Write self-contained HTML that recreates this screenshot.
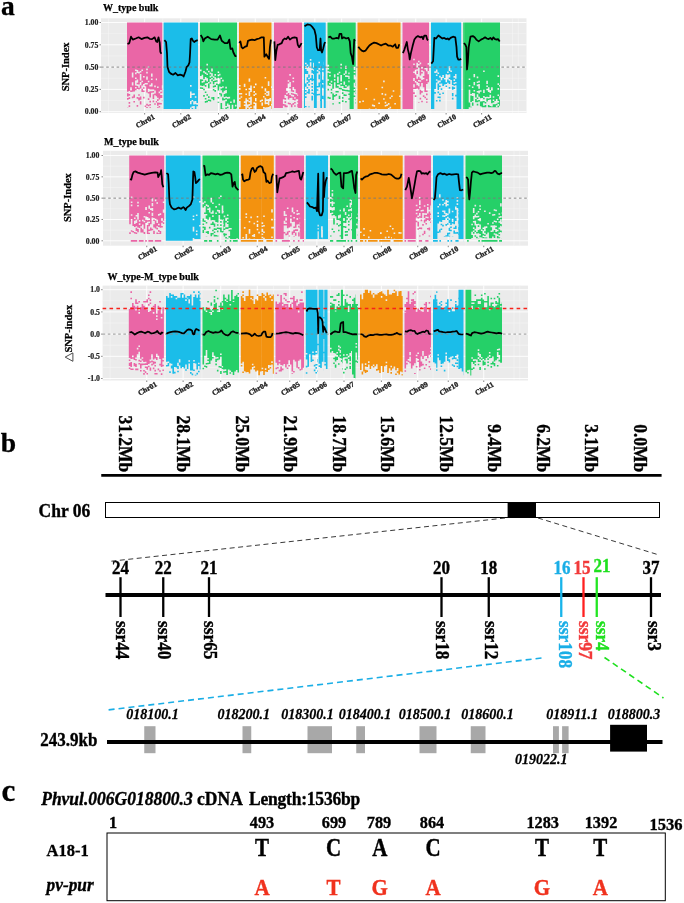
<!DOCTYPE html>
<html><head><meta charset="utf-8"><style>html,body{margin:0;padding:0;background:#fff;}svg{display:block;will-change:transform;}</style></head>
<body><svg width="684" height="903" viewBox="0 0 684 903" font-family='"Liberation Serif", serif'><rect x="101" y="18.3" width="425.50" height="94.70" fill="#ebebeb"/><path d="M101 33.65H526.5M101 55.95H526.5M101 78.25H526.5M101 100.55H526.5M162.73 18.3V113M199.65 18.3V113M236.88 18.3V113M271.62 18.3V113M301.43 18.3V113M328.24 18.3V113M360.31 18.3V113M397.38 18.3V113M430.94 18.3V113M463.88 18.3V113M108.50 18.3V113M512.50 18.3V113M518.30 18.3V113" stroke="#f6f6f6" stroke-width="0.5" fill="none"/><path d="M101 22.50H526.5M101 44.80H526.5M101 67.10H526.5M101 89.40H526.5M101 111.70H526.5M144.65 18.3V113M180.80 18.3V113M218.50 18.3V113M255.25 18.3V113M288.00 18.3V113M314.85 18.3V113M341.62 18.3V113M379.00 18.3V113M415.75 18.3V113M446.12 18.3V113M481.62 18.3V113" stroke="#fff" stroke-width="0.9" fill="none"/><path fill="#ea66a6" d="M127 22.5h1.6V91.7h-1.6zM127 93.3h1.6V96.5h-1.6zM127 98.1h1.6V99.7h-1.6zM127 107.7h1.6V108.1h-1.6zM128.6 22.5h1.6V90.9h-1.6zM128.6 94.1h1.6V95.7h-1.6zM128.6 97.3h1.6V98.9h-1.6zM128.6 102.1h1.6V103.7h-1.6zM128.6 105.3h1.6V106.9h-1.6zM130.2 22.5h1.6V87.3h-1.6zM130.2 90.5h1.6V92.1h-1.6zM131.8 22.5h1.6V72.6h-1.6zM131.8 77.4h1.6V82.2h-1.6zM131.8 85.4h1.6V91.8h-1.6zM131.8 96.6h1.6V98.2h-1.6zM133.4 22.5h1.6V91.4h-1.6zM133.4 94.6h1.6V97.8h-1.6zM133.4 101h1.6V102.6h-1.6zM135 22.5h1.6V69.4h-1.6zM135 71h1.6V72.6h-1.6zM135 74.2h1.6V77.4h-1.6zM135 79h1.6V80.6h-1.6zM135 85.4h1.6V87h-1.6zM135 88.6h1.6V90.2h-1.6zM136.6 22.5h1.6V69.9h-1.6zM136.6 73.1h1.6V79.5h-1.6zM136.6 82.7h1.6V84.3h-1.6zM136.6 85.9h1.6V89.1h-1.6zM136.6 97.1h1.6V98.7h-1.6zM136.6 105.1h1.6V106.7h-1.6zM138.2 22.5h1.6V71.8h-1.6zM138.2 73.4h1.6V84.6h-1.6zM138.2 87.8h1.6V89.4h-1.6zM138.2 94.2h1.6V95.8h-1.6zM138.2 97.4h1.6V100.6h-1.6zM139.8 22.5h1.6V70.9h-1.6zM139.8 72.5h1.6V74.1h-1.6zM139.8 80.5h1.6V82.1h-1.6zM139.8 85.3h1.6V88.5h-1.6zM139.8 96.5h1.6V99.7h-1.6zM139.8 101.3h1.6V104.5h-1.6zM141.4 22.5h1.6V69.5h-1.6zM141.4 71.1h1.6V80.7h-1.6zM141.4 82.3h1.6V85.5h-1.6zM141.4 88.7h1.6V91.9h-1.6zM143 22.5h1.6V76h-1.6zM143 77.6h1.6V84h-1.6zM143 87.2h1.6V88.8h-1.6zM143 90.4h1.6V92h-1.6zM143 96.8h1.6V98.4h-1.6zM143 108h1.6V108.1h-1.6zM144.6 22.5h1.6V83h-1.6zM144.6 84.6h1.6V86.2h-1.6zM144.6 105.4h1.6V107h-1.6zM146.2 22.5h1.6V68.6h-1.6zM146.2 70.2h1.6V71.8h-1.6zM146.2 73.4h1.6V76.6h-1.6zM146.2 79.8h1.6V83h-1.6zM146.2 84.6h1.6V92.6h-1.6zM146.2 103.8h1.6V105.4h-1.6zM146.2 107h1.6V108.1h-1.6zM147.8 22.5h1.6V66.3h-1.6zM147.8 67.9h1.6V80.7h-1.6zM147.8 82.3h1.6V88.7h-1.6zM147.8 91.9h1.6V93.5h-1.6zM147.8 98.3h1.6V99.9h-1.6zM147.8 104.7h1.6V106.3h-1.6zM149.4 22.5h1.6V84.8h-1.6zM149.4 86.4h1.6V89.6h-1.6zM149.4 91.2h1.6V97.6h-1.6zM149.4 100.8h1.6V102.4h-1.6zM149.4 104h1.6V105.6h-1.6zM149.4 107.2h1.6V108.1h-1.6zM151 22.5h1.6V73.6h-1.6zM151 76.8h1.6V78.4h-1.6zM151 80h1.6V83.2h-1.6zM151 86.4h1.6V89.6h-1.6zM151 91.2h1.6V92.8h-1.6zM152.6 22.5h1.6V89.4h-1.6zM152.6 91h1.6V92.6h-1.6zM152.6 94.2h1.6V99h-1.6zM152.6 100.6h1.6V102.2h-1.6zM154.2 22.5h1.6V85.6h-1.6zM154.2 87.2h1.6V90.4h-1.6zM154.2 93.6h1.6V95.2h-1.6zM154.2 103.2h1.6V104.8h-1.6zM154.2 108h1.6V108.1h-1.6zM155.8 22.5h1.2V78.6h-1.2zM155.8 80.2h1.2V96.2h-1.2zM155.8 101h1.2V102.6h-1.2zM157 22.5h1.6V86.5h-1.6zM157 88.1h1.6V97.7h-1.6zM157 99.3h1.6V100.9h-1.6zM157 102.5h1.6V105.7h-1.6zM157 107.3h1.6V108.1h-1.6zM158.6 22.5h1.6V91.6h-1.6zM158.6 93.2h1.6V99.6h-1.6zM158.6 102.8h1.6V104.4h-1.6zM158.6 106h1.6V107.6h-1.6zM160.2 22.5h1.6V90.1h-1.6zM160.2 91.7h1.6V93.3h-1.6zM160.2 94.9h1.6V98.1h-1.6zM160.2 102.9h1.6V104.5h-1.6zM161.8 22.5h0.5V85.3h-0.5zM161.8 88.5h0.5V93.3h-0.5zM161.8 94.9h0.5V98.1h-0.5zM161.8 99.7h0.5V101.3h-0.5zM161.8 107.7h0.5V108.1h-0.5z"/><path fill="#1bbde9" d="M163.6 22.5h1.6V109h-1.6zM165.2 22.5h1.6V109h-1.6zM166.8 22.5h1.6V109h-1.6zM168.4 22.5h1.6V109h-1.6zM170 22.5h1.6V109h-1.6zM171.6 22.5h1.6V109h-1.6zM173.2 22.5h1.6V109h-1.6zM174.8 22.5h1.6V109h-1.6zM176.4 22.5h1.6V109h-1.6zM178 22.5h1.6V109h-1.6zM179.6 22.5h1.6V109h-1.6zM181.2 22.5h1.6V109h-1.6zM182.8 22.5h1.6V109h-1.6zM184.4 22.5h1.6V109h-1.6zM186 22.5h1.6V109h-1.6zM187.6 22.5h1.6V109h-1.6zM189.2 22.5h0.8V109h-0.8zM190 22.5h1.6V85.1h-1.6zM190 86.7h1.6V91.5h-1.6zM190 97.9h1.6V101.1h-1.6zM190 104.3h1.6V107.5h-1.6zM191.6 22.5h1.6V93.5h-1.6zM191.6 95.1h1.6V99.9h-1.6zM191.6 101.5h1.6V106.3h-1.6zM191.6 107.9h1.6V109h-1.6zM193.2 22.5h1.6V93.3h-1.6zM193.2 94.9h1.6V101.3h-1.6zM193.2 104.5h1.6V106.1h-1.6zM194.8 22.5h1.6V96.2h-1.6zM194.8 97.8h1.6V101h-1.6zM194.8 104.2h1.6V109h-1.6zM196.4 22.5h1.6V103.1h-1.6zM196.4 104.7h1.6V106.3h-1.6z"/><path fill="#25d068" d="M200 22.5h1.6V69.6h-1.6zM200 71.2h1.6V76h-1.6zM200 79.2h1.6V85.6h-1.6zM200 87.2h1.6V88.8h-1.6zM201.6 22.5h1.6V74.7h-1.6zM201.6 79.5h1.6V81.1h-1.6zM201.6 82.7h1.6V85.9h-1.6zM201.6 87.5h1.6V89.1h-1.6zM203.2 22.5h1.6V71.1h-1.6zM203.2 72.7h1.6V79.1h-1.6zM203.2 82.3h1.6V85.5h-1.6zM203.2 88.7h1.6V90.3h-1.6zM203.2 95.1h1.6V96.7h-1.6zM204.8 22.5h1.6V72.3h-1.6zM204.8 73.9h1.6V77.1h-1.6zM204.8 80.3h1.6V83.5h-1.6zM204.8 85.1h1.6V86.7h-1.6zM204.8 91.5h1.6V93.1h-1.6zM204.8 97.9h1.6V99.5h-1.6zM204.8 101.1h1.6V102.7h-1.6zM206.4 22.5h1.6V63.8h-1.6zM206.4 65.4h1.6V68.6h-1.6zM206.4 70.2h1.6V73.4h-1.6zM206.4 75h1.6V78.2h-1.6zM206.4 81.4h1.6V83h-1.6zM206.4 94.2h1.6V95.8h-1.6zM206.4 100.6h1.6V102.2h-1.6zM208 22.5h1.6V70.7h-1.6zM208 72.3h1.6V81.9h-1.6zM208 83.5h1.6V88.3h-1.6zM208 96.3h1.6V97.9h-1.6zM208 99.5h1.6V101.1h-1.6zM208 102.7h1.6V102.8h-1.6zM209.6 22.5h1.6V72.6h-1.6zM209.6 74.2h1.6V75.8h-1.6zM209.6 77.4h1.6V79h-1.6zM209.6 82.2h1.6V83.8h-1.6zM209.6 99.8h1.6V101.4h-1.6zM211.2 22.5h1.6V68.4h-1.6zM211.2 71.6h1.6V73.2h-1.6zM211.2 76.4h1.6V78h-1.6zM211.2 79.6h1.6V81.2h-1.6zM211.2 97.2h1.6V98.8h-1.6zM212.8 22.5h1.6V76.2h-1.6zM212.8 77.8h1.6V79.4h-1.6zM212.8 81h1.6V84.2h-1.6zM212.8 85.8h1.6V87.4h-1.6zM212.8 89h1.6V90.6h-1.6zM212.8 97h1.6V100.2h-1.6zM214.4 22.5h1.6V74.1h-1.6zM214.4 75.7h1.6V77.3h-1.6zM214.4 80.5h1.6V82.1h-1.6zM214.4 85.3h1.6V86.9h-1.6zM214.4 90.1h1.6V91.7h-1.6zM216 22.5h1.6V78.6h-1.6zM216 80.2h1.6V81.8h-1.6zM216 83.4h1.6V85h-1.6zM217.6 22.5h1.6V71.4h-1.6zM217.6 73h1.6V74.6h-1.6zM217.6 76.2h1.6V77.8h-1.6zM217.6 84.2h1.6V90.6h-1.6zM217.6 97h1.6V98.6h-1.6zM217.6 101.8h1.6V102.8h-1.6zM219.2 22.5h1.3V73.8h-1.3zM219.2 75.4h1.3V78.6h-1.3zM219.2 83.4h1.3V86.6h-1.3zM219.2 93h1.3V94.6h-1.3zM220.5 22.5h1.6V77.4h-1.6zM220.5 79h1.6V87h-1.6zM220.5 88.6h1.6V90.2h-1.6zM220.5 93.4h1.6V96.6h-1.6zM220.5 103h1.6V109h-1.6zM222.1 22.5h1.6V79.8h-1.6zM222.1 81.4h1.6V86.2h-1.6zM222.1 87.8h1.6V92.6h-1.6zM222.1 97.4h1.6V100.6h-1.6zM222.1 108.6h1.6V109h-1.6zM223.7 22.5h1.6V90.7h-1.6zM223.7 93.9h1.6V97.1h-1.6zM223.7 98.7h1.6V100.3h-1.6zM225.3 22.5h1.6V86.8h-1.6zM225.3 88.4h1.6V90h-1.6zM225.3 93.2h1.6V96.4h-1.6zM225.3 98h1.6V99.6h-1.6zM225.3 101.2h1.6V106h-1.6zM225.3 107.6h1.6V109h-1.6zM226.9 22.5h1.6V97.1h-1.6zM226.9 98.7h1.6V103.5h-1.6zM226.9 106.7h1.6V108.3h-1.6zM228.5 22.5h1.6V96.8h-1.6zM228.5 98.4h1.6V104.8h-1.6zM230.1 22.5h1.6V101.4h-1.6zM230.1 103h1.6V109h-1.6zM231.7 22.5h1.6V104.8h-1.6zM233.3 22.5h1.6V99.6h-1.6zM233.3 102.8h1.6V109h-1.6zM234.9 22.5h1.6V104.8h-1.6zM234.9 106.4h1.6V109h-1.6zM236.5 22.5h0.5V108h-0.5z"/><path fill="#f3920f" d="M239 22.5h1.6V84.9h-1.6zM239 86.5h1.6V88.1h-1.6zM239 89.7h1.6V92.9h-1.6zM239 94.5h1.6V97.7h-1.6zM239 99.3h1.6V100.9h-1.6zM239 107.3h1.6V109h-1.6zM240.6 22.5h1.6V93h-1.6zM240.6 94.6h1.6V96.2h-1.6zM240.6 97.8h1.6V109h-1.6zM242.2 22.5h1.6V109h-1.6zM243.8 22.5h1.6V83.7h-1.6zM243.8 86.9h1.6V101.3h-1.6zM243.8 102.9h1.6V104.5h-1.6zM243.8 106.1h1.6V109h-1.6zM245.4 22.5h1.6V88.7h-1.6zM245.4 90.3h1.6V93.5h-1.6zM245.4 95.1h1.6V98.3h-1.6zM247 22.5h1.6V99.8h-1.6zM247 101.4h1.6V104.6h-1.6zM247 107.8h1.6V109h-1.6zM248.6 22.5h1.6V78.5h-1.6zM248.6 81.7h1.6V88.1h-1.6zM248.6 89.7h1.6V91.3h-1.6zM248.6 96.1h1.6V97.7h-1.6zM248.6 99.3h1.6V100.9h-1.6zM248.6 102.5h1.6V104.1h-1.6zM248.6 105.7h1.6V107.3h-1.6zM248.6 108.9h1.6V109h-1.6zM250.2 22.5h1.6V85.6h-1.6zM250.2 92h1.6V96.8h-1.6zM250.2 104.8h1.6V106.4h-1.6zM250.2 108h1.6V109h-1.6zM251.8 22.5h1.6V109h-1.6zM253.4 22.5h1.6V86.3h-1.6zM253.4 87.9h1.6V91.1h-1.6zM253.4 92.7h1.6V94.3h-1.6zM253.4 95.9h1.6V102.3h-1.6zM253.4 103.9h1.6V105.5h-1.6zM253.4 108.7h1.6V109h-1.6zM255 22.5h1.6V83.6h-1.6zM255 85.2h1.6V93.2h-1.6zM255 94.8h1.6V98h-1.6zM255 101.2h1.6V102.8h-1.6zM256.6 22.5h1.6V109h-1.6zM258.2 22.5h1.6V109h-1.6zM259.8 22.5h1.6V100.3h-1.6zM259.8 101.9h1.6V109h-1.6zM261.4 22.5h1.6V86.6h-1.6zM261.4 88.2h1.6V99.4h-1.6zM261.4 101h1.6V102.6h-1.6zM261.4 105.8h1.6V109h-1.6zM263 22.5h1.6V95.9h-1.6zM263 97.5h1.6V107.1h-1.6zM263 108.7h1.6V109h-1.6zM264.6 22.5h1.6V77h-1.6zM264.6 78.6h1.6V88.2h-1.6zM264.6 91.4h1.6V93h-1.6zM264.6 94.6h1.6V97.8h-1.6zM264.6 104.2h1.6V107.4h-1.6zM266.2 22.5h1.6V91.3h-1.6zM266.2 92.9h1.6V94.5h-1.6zM266.2 96.1h1.6V99.3h-1.6zM266.2 100.9h1.6V102.5h-1.6zM266.2 104.1h1.6V107.3h-1.6zM267.8 22.5h1.6V81.3h-1.6zM267.8 86.1h1.6V90.9h-1.6zM267.8 95.7h1.6V98.9h-1.6zM267.8 105.3h1.6V106.9h-1.6zM269.4 22.5h1.6V98h-1.6zM269.4 101.2h1.6V106h-1.6zM271 22.5h0.5V86.3h-0.5zM271 87.9h0.5V103.9h-0.5zM271 105.5h0.5V109h-0.5z"/><path fill="#ea66a6" d="M274 22.5h1.6V108.1h-1.6zM275.6 22.5h1.6V108.1h-1.6zM277.2 22.5h1.6V108.1h-1.6zM278.8 22.5h1.6V108.1h-1.6zM280.4 22.5h1.6V108.1h-1.6zM282 22.5h0.9V108.1h-0.9zM282.9 22.5h1.6V99.3h-1.6zM282.9 104.1h1.6V105.7h-1.6zM284.5 22.5h1.6V94.9h-1.6zM284.5 98.1h1.6V99.7h-1.6zM284.5 101.3h1.6V102.9h-1.6zM284.5 104.5h1.6V107.2h-1.6zM286.1 22.5h1.6V87.9h-1.6zM286.1 91.1h1.6V92.7h-1.6zM286.1 94.3h1.6V95.9h-1.6zM286.1 105.5h1.6V107.2h-1.6zM287.7 22.5h1.6V80.2h-1.6zM287.7 81.8h1.6V83.4h-1.6zM287.7 93h1.6V99.4h-1.6zM287.7 102.6h1.6V104.2h-1.6zM289.3 22.5h1.6V74.1h-1.6zM289.3 75.7h1.6V82.1h-1.6zM289.3 86.9h1.6V88.5h-1.6zM289.3 94.9h1.6V98.1h-1.6zM289.3 102.9h1.6V104.5h-1.6zM290.9 22.5h1.6V91.4h-1.6zM290.9 93h1.6V94.6h-1.6zM290.9 96.2h1.6V97.8h-1.6zM290.9 104.2h1.6V107.2h-1.6zM292.5 22.5h1.6V77.5h-1.6zM292.5 79.1h1.6V80.7h-1.6zM292.5 82.3h1.6V87.1h-1.6zM292.5 90.3h1.6V91.9h-1.6zM292.5 93.5h1.6V95.1h-1.6zM292.5 96.7h1.6V99.9h-1.6zM292.5 103.1h1.6V104.7h-1.6zM294.1 22.5h1.6V89.2h-1.6zM294.1 94h1.6V97.2h-1.6zM294.1 98.8h1.6V100.4h-1.6zM294.1 102h1.6V103.6h-1.6zM294.1 105.2h1.6V106.8h-1.6zM295.7 22.5h1.6V92.9h-1.6zM295.7 94.5h1.6V99.3h-1.6zM297.3 22.5h0.8V94.5h-0.8zM297.3 96.1h0.8V99.3h-0.8zM297.3 100.9h0.8V102.5h-0.8zM297.3 104.1h0.8V107.2h-0.8zM298.1 22.5h1.6V108.1h-1.6zM299.7 22.5h1.6V108.1h-1.6zM301.3 22.5h0.7V108.1h-0.7z"/><path fill="#1bbde9" d="M304 22.5h1V108.1h-1zM305 22.5h1.6V62.7h-1.6zM305 64.3h1.6V65.9h-1.6zM305 69.1h1.6V73.9h-1.6zM305 83.5h1.6V86.7h-1.6zM305 89.9h1.6V91.5h-1.6zM305 93.1h1.6V94.7h-1.6zM305 96.3h1.6V97.9h-1.6zM305 105.9h1.6V107.2h-1.6zM306.6 22.5h1.6V64.5h-1.6zM306.6 66.1h1.6V67.7h-1.6zM306.6 70.9h1.6V74.1h-1.6zM306.6 77.3h1.6V80.5h-1.6zM306.6 82.1h1.6V83.7h-1.6zM306.6 86.9h1.6V88.5h-1.6zM306.6 91.7h1.6V93.3h-1.6zM308.2 22.5h1.6V66.5h-1.6zM308.2 74.5h1.6V77.7h-1.6zM308.2 79.3h1.6V82.5h-1.6zM308.2 84.1h1.6V85.7h-1.6zM308.2 88.9h1.6V93.7h-1.6zM308.2 106.5h1.6V107.2h-1.6zM309.8 22.5h1.6V59.1h-1.6zM309.8 60.7h1.6V62.3h-1.6zM309.8 78.3h1.6V79.9h-1.6zM311.4 22.5h1.6V68.5h-1.6zM311.4 70.1h1.6V73.3h-1.6zM311.4 74.9h1.6V81.3h-1.6zM311.4 82.9h1.6V84.5h-1.6zM311.4 86.1h1.6V87.7h-1.6zM311.4 89.3h1.6V90.9h-1.6zM311.4 92.5h1.6V94.1h-1.6zM311.4 95.7h1.6V100.5h-1.6zM313 22.5h0.9V62.8h-0.9zM313 67.6h0.9V69.2h-0.9zM313 70.8h0.9V74h-0.9zM313 78.8h0.9V80.4h-0.9zM313 93.2h0.9V94.8h-0.9zM313.9 22.5h1.6V108.1h-1.6zM315.5 22.5h1.3V108.1h-1.3zM316.8 22.5h1.6V70h-1.6zM316.8 71.6h1.6V73.2h-1.6zM316.8 86h1.6V87.6h-1.6zM316.8 89.2h1.6V90.8h-1.6zM316.8 94h1.6V95.6h-1.6zM318.4 22.5h1.6V61.7h-1.6zM318.4 63.3h1.6V68.1h-1.6zM318.4 69.7h1.6V71.3h-1.6zM318.4 74.5h1.6V79.3h-1.6zM318.4 82.5h1.6V87.3h-1.6zM318.4 93.7h1.6V95.3h-1.6zM320 22.5h0.3V65.8h-0.3zM320 70.6h0.3V72.2h-0.3zM320 81.8h0.3V83.4h-0.3zM320 99.4h0.3V101h-0.3zM320.3 22.5h1.6V108.1h-1.6zM321.9 22.5h0.1V108.1h-0.1zM322 22.5h1.6V68.6h-1.6zM322 70.2h1.6V71.8h-1.6zM322 79.8h1.6V83h-1.6zM322 84.6h1.6V87.8h-1.6zM322 95.8h1.6V99h-1.6zM323.6 22.5h0.2V61.8h-0.2zM323.6 65h0.2V68.2h-0.2zM323.6 69.8h0.2V73h-0.2zM323.6 76.2h0.2V79.4h-0.2zM323.6 82.6h0.2V84.2h-0.2zM323.6 87.4h0.2V89h-0.2zM323.6 98.6h0.2V100.2h-0.2zM323.8 22.5h1.6V108.1h-1.6zM325.4 22.5h0.3V108.1h-0.3z"/><path fill="#25d068" d="M327.5 22.5h1.6V64.8h-1.6zM327.5 66.4h1.6V68h-1.6zM327.5 69.6h1.6V71.2h-1.6zM327.5 72.8h1.6V79.2h-1.6zM327.5 80.8h1.6V85.6h-1.6zM327.5 88.8h1.6V90.4h-1.6zM327.5 96.8h1.6V98.4h-1.6zM329.1 22.5h1.6V71.7h-1.6zM329.1 73.3h1.6V74.9h-1.6zM329.1 76.5h1.6V82.9h-1.6zM329.1 84.5h1.6V86.1h-1.6zM329.1 97.3h1.6V98.9h-1.6zM330.7 22.5h1.6V80.8h-1.6zM330.7 82.4h1.6V84h-1.6zM330.7 88.8h1.6V90.4h-1.6zM330.7 92h1.6V93.6h-1.6zM332.3 22.5h1.6V88.8h-1.6zM332.3 93.6h1.6V100h-1.6zM332.3 103.2h1.6V104.6h-1.6zM333.9 22.5h1.6V74.3h-1.6zM333.9 77.5h1.6V79.1h-1.6zM333.9 80.7h1.6V82.3h-1.6zM333.9 95.1h1.6V96.7h-1.6zM335.5 22.5h1.6V87.7h-1.6zM335.5 90.9h1.6V92.5h-1.6zM335.5 94.1h1.6V95.7h-1.6zM337.1 22.5h1.6V73.3h-1.6zM337.1 74.9h1.6V76.5h-1.6zM337.1 82.9h1.6V84.5h-1.6zM337.1 86.1h1.6V87.7h-1.6zM337.1 90.9h1.6V92.5h-1.6zM338.7 22.5h1.6V71.7h-1.6zM338.7 73.3h1.6V84.5h-1.6zM338.7 87.7h1.6V89.3h-1.6zM338.7 95.7h1.6V98.9h-1.6zM338.7 102.1h1.6V103.7h-1.6zM340.3 22.5h1.6V63.8h-1.6zM340.3 65.4h1.6V67h-1.6zM340.3 68.6h1.6V75h-1.6zM340.3 81.4h1.6V83h-1.6zM340.3 84.6h1.6V86.2h-1.6zM340.3 87.8h1.6V89.4h-1.6zM341.9 22.5h1.6V85.9h-1.6zM341.9 89.1h1.6V90.7h-1.6zM341.9 92.3h1.6V93.9h-1.6zM341.9 97.1h1.6V98.7h-1.6zM341.9 100.3h1.6V101.9h-1.6zM343.5 22.5h1.6V73.5h-1.6zM343.5 75.1h1.6V81.5h-1.6zM343.5 84.7h1.6V87.9h-1.6zM343.5 89.5h1.6V91.1h-1.6zM343.5 94.3h1.6V95.9h-1.6zM345.1 22.5h1.6V65.7h-1.6zM345.1 68.9h1.6V70.5h-1.6zM345.1 73.7h1.6V75.3h-1.6zM345.1 76.9h1.6V84.9h-1.6zM345.1 86.5h1.6V88.1h-1.6zM345.1 89.7h1.6V91.3h-1.6zM345.1 94.5h1.6V96.1h-1.6zM345.1 100.9h1.6V102.5h-1.6zM346.7 22.5h1.6V75.4h-1.6zM346.7 77h1.6V86.6h-1.6zM346.7 89.8h1.6V91.4h-1.6zM348.3 22.5h1.3V72.6h-1.3zM348.3 74.2h1.3V75.8h-1.3zM348.3 79h1.3V80.6h-1.3zM348.3 82.2h1.3V85.4h-1.3zM348.3 90.2h1.3V91.8h-1.3zM348.3 93.4h1.3V95h-1.3zM348.3 98.2h1.3V99.8h-1.3zM349.6 22.5h1.6V109h-1.6zM351.2 22.5h1.6V109h-1.6zM352.8 22.5h0.9V109h-0.9zM353.7 22.5h1.6V66.7h-1.6zM353.7 69.9h1.6V71.5h-1.6zM353.7 73.1h1.6V74.7h-1.6zM353.7 79.5h1.6V82.7h-1.6zM353.7 87.5h1.6V89.1h-1.6zM353.7 90.7h1.6V92.3h-1.6zM353.7 95.5h1.6V97.1h-1.6zM355.3 22.5h0.4V76.5h-0.4zM355.3 82.9h0.4V86.1h-0.4zM355.3 89.3h0.4V90.9h-0.4zM355.3 92.5h0.4V94.1h-0.4zM355.3 98.9h0.4V100.5h-0.4zM355.3 102.1h0.4V103.7h-0.4z"/><path fill="#f3920f" d="M357.5 22.5h1.6V109h-1.6zM359.1 22.5h1.6V101.1h-1.6zM359.1 102.7h1.6V109h-1.6zM360.7 22.5h1.6V109h-1.6zM362.3 22.5h1.6V100.5h-1.6zM362.3 102.1h1.6V109h-1.6zM363.9 22.5h1.6V109h-1.6zM365.5 22.5h1.6V87.9h-1.6zM365.5 89.5h1.6V109h-1.6zM367.1 22.5h1.6V109h-1.6zM368.7 22.5h1.6V108.4h-1.6zM370.3 22.5h1.6V109h-1.6zM371.9 22.5h1.6V104.6h-1.6zM371.9 106.2h1.6V109h-1.6zM373.5 22.5h1.6V98.7h-1.6zM373.5 100.3h1.6V105.1h-1.6zM373.5 106.7h1.6V109h-1.6zM375.1 22.5h1.6V108.4h-1.6zM376.7 22.5h1.6V109h-1.6zM378.3 22.5h1.6V102.5h-1.6zM378.3 104.1h1.6V109h-1.6zM379.9 22.5h1.6V109h-1.6zM381.5 22.5h1.6V86.7h-1.6zM381.5 88.3h1.6V93.1h-1.6zM381.5 94.7h1.6V109h-1.6zM383.1 22.5h1.6V80.6h-1.6zM383.1 82.2h1.6V98.2h-1.6zM383.1 99.8h1.6V109h-1.6zM384.7 22.5h1.6V93.8h-1.6zM384.7 95.4h1.6V101.8h-1.6zM384.7 103.4h1.6V105h-1.6zM384.7 106.6h1.6V109h-1.6zM386.3 22.5h1.6V104.3h-1.6zM386.3 105.9h1.6V109h-1.6zM387.9 22.5h1.6V103.1h-1.6zM387.9 104.7h1.6V107.9h-1.6zM389.5 22.5h1.6V97.2h-1.6zM389.5 98.8h1.6V106.8h-1.6zM389.5 108.4h1.6V109h-1.6zM391.1 22.5h1.6V95.4h-1.6zM391.1 97h1.6V109h-1.6zM392.7 22.5h1.6V90.2h-1.6zM392.7 91.8h1.6V109h-1.6zM394.3 22.5h1.6V103h-1.6zM394.3 104.6h1.6V109h-1.6zM395.9 22.5h1.6V109h-1.6zM397.5 22.5h1.6V109h-1.6zM399.1 22.5h1.4V95.4h-1.4zM399.1 97h1.4V109h-1.4z"/><path fill="#ea66a6" d="M402.5 22.5h1.6V109h-1.6zM404.1 22.5h1.6V109h-1.6zM405.7 22.5h1.6V109h-1.6zM407.3 22.5h1.6V109h-1.6zM408.9 22.5h1.6V109h-1.6zM410.5 22.5h1.6V109h-1.6zM412.1 22.5h1.1V109h-1.1zM413.2 22.5h1.6V58.7h-1.6zM413.2 60.3h1.6V63.5h-1.6zM413.2 65.1h1.6V71.5h-1.6zM413.2 73.1h1.6V77.9h-1.6zM413.2 81.1h1.6V84.3h-1.6zM413.2 87.5h1.6V89.1h-1.6zM413.2 92.3h1.6V93.9h-1.6zM414.8 22.5h1.6V69.7h-1.6zM414.8 74.5h1.6V80.9h-1.6zM414.8 82.5h1.6V88.9h-1.6zM414.8 95.3h1.6V96.9h-1.6zM416.4 22.5h1.6V62.8h-1.6zM416.4 67.6h1.6V69.2h-1.6zM416.4 70.8h1.6V74h-1.6zM416.4 78.8h1.6V82h-1.6zM416.4 85.2h1.6V88.4h-1.6zM418 22.5h1.6V60.7h-1.6zM418 62.3h1.6V63.9h-1.6zM418 65.5h1.6V67.1h-1.6zM418 76.7h1.6V79.9h-1.6zM418 81.5h1.6V83.1h-1.6zM418 86.3h1.6V89.5h-1.6zM418 102.3h1.6V102.8h-1.6zM419.6 22.5h1.6V62.6h-1.6zM419.6 64.2h1.6V75.4h-1.6zM419.6 78.6h1.6V80.2h-1.6zM419.6 81.8h1.6V86.6h-1.6zM419.6 89.8h1.6V94.6h-1.6zM419.6 97.8h1.6V99.4h-1.6zM421.2 22.5h1.6V67.1h-1.6zM421.2 68.7h1.6V70.3h-1.6zM421.2 71.9h1.6V73.5h-1.6zM421.2 79.9h1.6V83.1h-1.6zM421.2 91.1h1.6V92.7h-1.6zM421.2 100.7h1.6V102.3h-1.6zM422.8 22.5h1.6V71.3h-1.6zM422.8 76.1h1.6V77.7h-1.6zM422.8 79.3h1.6V87.3h-1.6zM422.8 95.3h1.6V96.9h-1.6zM424.4 22.5h1.6V67.9h-1.6zM424.4 69.5h1.6V91.9h-1.6zM424.4 96.7h1.6V98.3h-1.6zM426 22.5h1.6V68h-1.6zM426 71.2h1.6V79.2h-1.6zM426 80.8h1.6V84h-1.6zM426 90.4h1.6V92h-1.6zM426 93.6h1.6V95.2h-1.6zM426 98.4h1.6V100h-1.6zM426 101.6h1.6V102.8h-1.6zM427.6 22.5h1.4V63.1h-1.4zM427.6 64.7h1.4V71.1h-1.4zM427.6 74.3h1.4V82.3h-1.4z"/><path fill="#1bbde9" d="M431 22.5h1.6V109h-1.6zM432.6 22.5h1.6V109h-1.6zM434.2 22.5h0.1V109h-0.1zM434.3 22.5h1.6V71.3h-1.6zM434.3 72.9h1.6V88.9h-1.6zM434.3 92.1h1.6V93.7h-1.6zM435.9 22.5h1.6V69.6h-1.6zM435.9 72.8h1.6V74.4h-1.6zM435.9 76h1.6V79.2h-1.6zM435.9 80.8h1.6V82.4h-1.6zM435.9 100h1.6V101.6h-1.6zM437.5 22.5h1.6V72.4h-1.6zM437.5 74h1.6V80.4h-1.6zM437.5 83.6h1.6V90h-1.6zM437.5 91.6h1.6V93.2h-1.6zM437.5 96.4h1.6V98h-1.6zM439.1 22.5h1.6V75.8h-1.6zM439.1 77.4h1.6V80.6h-1.6zM439.1 82.2h1.6V83.8h-1.6zM439.1 85.4h1.6V87h-1.6zM439.1 93.4h1.6V95h-1.6zM439.1 96.6h1.6V98.2h-1.6zM439.1 99.8h1.6V101.4h-1.6zM440.7 22.5h1.6V77.1h-1.6zM440.7 80.3h1.6V83.5h-1.6zM440.7 88.3h1.6V89.9h-1.6zM442.3 22.5h1.6V74.9h-1.6zM442.3 78.1h1.6V86.1h-1.6zM442.3 92.5h1.6V94.1h-1.6zM443.9 22.5h1.6V78h-1.6zM443.9 79.6h1.6V84.4h-1.6zM445.5 22.5h1.6V74.3h-1.6zM445.5 82.3h1.6V83.9h-1.6zM445.5 85.5h1.6V87.1h-1.6zM447.1 22.5h1.6V71.5h-1.6zM447.1 73.1h1.6V74.7h-1.6zM447.1 79.5h1.6V82.7h-1.6zM448.7 22.5h1.6V66.3h-1.6zM448.7 71.1h1.6V74.3h-1.6zM448.7 77.5h1.6V79.1h-1.6zM448.7 80.7h1.6V83.9h-1.6zM448.7 87.1h1.6V88.7h-1.6zM450.3 22.5h1.6V70.4h-1.6zM450.3 72h1.6V80h-1.6zM451.9 22.5h1.6V85h-1.6zM451.9 86.6h1.6V89.8h-1.6zM451.9 93h1.6V96.2h-1.6zM451.9 97.8h1.6V99.4h-1.6zM453.5 22.5h1.6V76.1h-1.6zM453.5 77.7h1.6V79.3h-1.6zM453.5 80.9h1.6V82.5h-1.6zM453.5 84.1h1.6V85.7h-1.6zM453.5 87.3h1.6V88.9h-1.6zM455.1 22.5h1.4V74h-1.4zM455.1 78.8h1.4V82h-1.4zM455.1 83.6h1.4V85.2h-1.4zM455.1 94.8h1.4V96.4h-1.4zM456.5 22.5h1.6V109h-1.6zM458.1 22.5h1.6V109h-1.6zM459.7 22.5h1.5V109h-1.5z"/><path fill="#25d068" d="M463.2 22.5h1.6V109h-1.6zM464.9 22.5h1.6V109h-1.6zM466.5 22.5h1.6V109h-1.6zM468.1 22.5h0.6V109h-0.6zM468.7 22.5h1.6V78.5h-1.6zM468.7 80.1h1.6V84.9h-1.6zM468.7 86.5h1.6V89.7h-1.6zM468.7 102.5h1.6V107.2h-1.6zM470.3 22.5h1.6V93.9h-1.6zM470.3 95.5h1.6V101.9h-1.6zM470.3 106.7h1.6V107.2h-1.6zM471.9 22.5h1.6V86.5h-1.6zM471.9 88.1h1.6V92.9h-1.6zM471.9 96.1h1.6V100.9h-1.6zM471.9 102.5h1.6V105.7h-1.6zM473.5 22.5h1.6V74h-1.6zM473.5 77.2h1.6V82h-1.6zM473.5 85.2h1.6V90h-1.6zM473.5 91.6h1.6V93.2h-1.6zM475.1 22.5h1.6V97.4h-1.6zM475.1 99h1.6V102.2h-1.6zM476.7 22.5h1.6V76.6h-1.6zM476.7 78.2h1.6V81.4h-1.6zM476.7 83h1.6V84.6h-1.6zM476.7 86.2h1.6V91h-1.6zM476.7 92.6h1.6V94.2h-1.6zM476.7 97.4h1.6V99h-1.6zM476.7 100.6h1.6V102.2h-1.6zM476.7 103.8h1.6V105.4h-1.6zM478.3 22.5h1.6V80.8h-1.6zM478.3 82.4h1.6V84h-1.6zM478.3 88.8h1.6V90.4h-1.6zM478.3 93.6h1.6V96.8h-1.6zM478.3 100h1.6V101.6h-1.6zM479.9 22.5h1.6V90.2h-1.6zM479.9 91.8h1.6V98.2h-1.6zM479.9 101.4h1.6V106.2h-1.6zM481.5 22.5h1.6V98h-1.6zM481.5 101.2h1.6V107.2h-1.6zM483.1 22.5h1.6V70.5h-1.6zM483.1 72.1h1.6V89.7h-1.6zM483.1 92.9h1.6V96.1h-1.6zM483.1 97.7h1.6V99.3h-1.6zM483.1 100.9h1.6V102.5h-1.6zM483.1 105.7h1.6V107.2h-1.6zM484.7 22.5h1.6V97.1h-1.6zM484.7 101.9h1.6V103.5h-1.6zM484.7 105.1h1.6V107.2h-1.6zM486.3 22.5h1.6V80.7h-1.6zM486.3 83.9h1.6V85.5h-1.6zM486.3 87.1h1.6V88.7h-1.6zM486.3 90.3h1.6V96.7h-1.6zM486.3 98.3h1.6V101.5h-1.6zM487.9 22.5h1.6V87.3h-1.6zM487.9 92.1h1.6V96.9h-1.6zM487.9 98.5h1.6V100.1h-1.6zM487.9 104.9h1.6V107.2h-1.6zM489.5 22.5h1.6V89.9h-1.6zM489.5 93.1h1.6V94.7h-1.6zM489.5 97.9h1.6V99.5h-1.6zM489.5 105.9h1.6V107.2h-1.6zM491.1 22.5h1.6V87.3h-1.6zM491.1 90.5h1.6V103.3h-1.6zM491.1 106.5h1.6V107.2h-1.6zM492.7 22.5h1.6V96.2h-1.6zM492.7 97.8h1.6V99.4h-1.6zM492.7 101h1.6V102.6h-1.6zM492.7 104.2h1.6V107.2h-1.6zM494.3 22.5h1.6V101h-1.6zM494.3 104.2h1.6V107.2h-1.6zM495.9 22.5h1.6V98.9h-1.6zM495.9 103.7h1.6V105.3h-1.6zM495.9 106.9h1.6V107.2h-1.6zM497.5 22.5h1.6V75.3h-1.6zM497.5 76.9h1.6V83.3h-1.6zM497.5 84.9h1.6V88.1h-1.6zM497.5 89.7h1.6V94.5h-1.6zM497.5 96.1h1.6V100.9h-1.6zM497.5 102.5h1.6V104.1h-1.6zM497.5 105.7h1.6V107.2h-1.6zM499.1 22.5h0.9V85h-0.9zM499.1 86.6h0.9V96.2h-0.9zM499.1 99.4h0.9V105.8h-0.9z"/><path d="M101 67.10H526.5" stroke="#7a7a7a" stroke-width="0.9" stroke-dasharray="2.6,2.6"/><path d="M127.5 44L129.3 43.1L131 36.7L132.8 39.6L135.7 38.5L138.6 37.3L141.5 39.1L144.5 37.9L147.4 37.3L149.7 38.8L152.1 39.1L154.6 37.3L156.2 41.4L157.3 42L158.5 37.3L159.7 42.6L160.3 51.9L161.4 53.7" fill="none" stroke="#000" stroke-width="1.75" stroke-linejoin="round"/><path d="M164.4 40.2L166.1 42L167 53.1L167.5 67.1L169 71.8L170.8 73.6L173.1 74.7L175.5 73L177.8 75.3L180.1 74.7L182.5 75.3L183.6 76.5L185.4 71.8L186.6 67.1L188.3 65.4L189.5 62.4L190.1 53.1L190.7 39.1L191.8 38.5L193 40.8L194.2 42L195.9 40.8L197.7 40.2" fill="none" stroke="#000" stroke-width="1.75" stroke-linejoin="round"/><path d="M200.7 35L202.4 37.9L203.3 41.4L204.8 38.5L207.7 36.7L211.2 39.1L214.7 39.6L217.6 39.6L220 35.5L221.7 40.8L224.7 43.1L227.6 43.1L229.3 39.6L230.5 49L232.3 48.4L233.4 52.5L235.2 56L236.4 56" fill="none" stroke="#000" stroke-width="1.75" stroke-linejoin="round"/><path d="M239.3 43.1L240.4 41.4L241.6 47.2L242.8 48.4L245.1 46.7L246.9 46.1L248 40.8L249.8 40.2L252.1 39.6L254.5 40.2L256.8 39.1L259.2 38.5L261.5 37.3L263.8 37.3L264.4 56.6L266.2 54.3L267.9 57.2L269.1 58.9L269.9 47.2L270.9 39.6" fill="none" stroke="#000" stroke-width="1.75" stroke-linejoin="round"/><path d="M274.4 41.4L275.3 60.1L276.4 50.7L277.6 44.9L279.4 44.3L281.7 43.1L282.9 40.2L284.6 38.5L286.4 39.1L288.1 36.7L289.9 39.6L292.2 37.9L294.6 37.3L296.7 37.9L297.8 44.9L299.2 47.2L300.2 45.5L301.6 43.1" fill="none" stroke="#000" stroke-width="1.75" stroke-linejoin="round"/><path d="M304.5 26.2L307.4 24.4L310.4 25L312.7 27.4L314.4 29.7L315.8 35.5L316.8 47.2L318 50.2L319.7 50.2L320.5 38.5L321.2 50.7L322 52.5L323.2 48.4L324.4 43.7L325.2 42" fill="none" stroke="#000" stroke-width="1.75" stroke-linejoin="round"/><path d="M328.3 37.3L330.3 36.7L332 38.5L334.4 38.5L336.7 37.9L338.5 38.5L339.6 33.8L341.4 33.8L342 38.5L343.7 37.3L346.1 38.5L348.4 37.9L349.8 41.4L350.7 53.1L351.9 56.6L353.1 64.2L354.2 39.6L354.8 41.4" fill="none" stroke="#000" stroke-width="1.75" stroke-linejoin="round"/><path d="M358.3 46.7L360.1 49L361.8 50.7L363.6 51.3L365.4 50.7L367.1 48.4L369.4 45.5L371.8 43.7L374.1 42.6L376.5 43.1L378.8 44.3L381.1 45.5L383.5 44.3L385.8 43.7L388.2 45.5L390.5 45.5L392.8 46.7L395.2 44.3L396.3 47.8L398.1 47.8L399.3 44.3" fill="none" stroke="#000" stroke-width="1.75" stroke-linejoin="round"/><path d="M402.9 53.1L404.4 49.6L406.8 42L407.9 49.6L409.1 54.3L409.7 59.5L410.9 53.1L412.6 46.1L414.4 39.6L416.1 37.3L417.9 36.1L420.2 37.3L422 36.7L423.1 39.1L424.3 35.5L426.1 35.5L427.2 39.6L428.2 40.2" fill="none" stroke="#000" stroke-width="1.75" stroke-linejoin="round"/><path d="M431.3 63.6L433.1 61.3L434.3 37.9L436 38.5L438.4 35.5L440.7 37.3L442.4 38.5L444.2 37.9L446 39.1L447.7 38.5L448.9 39.6L450.6 37.9L453 36.7L455.3 37.3L456.5 47.2L457.1 56.6L458.2 59.5L460 59.5L461.2 58.9" fill="none" stroke="#000" stroke-width="1.75" stroke-linejoin="round"/><path d="M463.8 43.1L465.2 44.3L466.4 47.2L467 69.5L467.8 62.4L468.7 47.2L470.5 36.7L472.8 36.1L474.6 37.3L476.3 39.6L478.7 41.4L481 39.6L483.3 38.5L485.1 37.3L486.8 38.5L488.6 39.1L490.4 37.9L492.1 39.6L493.3 37.3L495 39.1L496.8 39.6L498 39.1L499.7 41.4" fill="none" stroke="#000" stroke-width="1.75" stroke-linejoin="round"/><text x="98.4" y="25.20" text-anchor="end" font-size="7.8" font-weight="bold" fill="#222" stroke="#222" stroke-width="0.2">1.00</text><path d="M99.5 22.50H101" stroke="#333" stroke-width="0.6"/><text x="98.4" y="47.50" text-anchor="end" font-size="7.8" font-weight="bold" fill="#222" stroke="#222" stroke-width="0.2">0.75</text><path d="M99.5 44.80H101" stroke="#333" stroke-width="0.6"/><text x="98.4" y="69.80" text-anchor="end" font-size="7.8" font-weight="bold" fill="#222" stroke="#222" stroke-width="0.2">0.50</text><path d="M99.5 67.10H101" stroke="#333" stroke-width="0.6"/><text x="98.4" y="92.10" text-anchor="end" font-size="7.8" font-weight="bold" fill="#222" stroke="#222" stroke-width="0.2">0.25</text><path d="M99.5 89.40H101" stroke="#333" stroke-width="0.6"/><text x="98.4" y="114.40" text-anchor="end" font-size="7.8" font-weight="bold" fill="#222" stroke="#222" stroke-width="0.2">0.00</text><path d="M99.5 111.70H101" stroke="#333" stroke-width="0.6"/><text x="103" y="11" font-size="10" font-weight="bold" stroke="#000" stroke-width="0.25">W_type bulk</text><text transform="translate(69.1,66.9) rotate(-90) scale(1,1.08)" text-anchor="middle" font-size="10.5" font-weight="bold" stroke="#000" stroke-width="0.25">SNP-Index</text><path d="M144.65 113v1.5" stroke="#333" stroke-width="0.6"/><text transform="translate(146.45,123.2) rotate(-29)" text-anchor="middle" font-size="7.5" font-weight="bold" fill="#1a1a1a" stroke="#1a1a1a" stroke-width="0.3">Chr01</text><path d="M180.80 113v1.5" stroke="#333" stroke-width="0.6"/><text transform="translate(182.60,123.2) rotate(-29)" text-anchor="middle" font-size="7.5" font-weight="bold" fill="#1a1a1a" stroke="#1a1a1a" stroke-width="0.3">Chr02</text><path d="M218.50 113v1.5" stroke="#333" stroke-width="0.6"/><text transform="translate(220.30,123.2) rotate(-29)" text-anchor="middle" font-size="7.5" font-weight="bold" fill="#1a1a1a" stroke="#1a1a1a" stroke-width="0.3">Chr03</text><path d="M255.25 113v1.5" stroke="#333" stroke-width="0.6"/><text transform="translate(257.05,123.2) rotate(-29)" text-anchor="middle" font-size="7.5" font-weight="bold" fill="#1a1a1a" stroke="#1a1a1a" stroke-width="0.3">Chr04</text><path d="M288.00 113v1.5" stroke="#333" stroke-width="0.6"/><text transform="translate(289.80,123.2) rotate(-29)" text-anchor="middle" font-size="7.5" font-weight="bold" fill="#1a1a1a" stroke="#1a1a1a" stroke-width="0.3">Chr05</text><path d="M314.85 113v1.5" stroke="#333" stroke-width="0.6"/><text transform="translate(316.65,123.2) rotate(-29)" text-anchor="middle" font-size="7.5" font-weight="bold" fill="#1a1a1a" stroke="#1a1a1a" stroke-width="0.3">Chr06</text><path d="M341.62 113v1.5" stroke="#333" stroke-width="0.6"/><text transform="translate(343.43,123.2) rotate(-29)" text-anchor="middle" font-size="7.5" font-weight="bold" fill="#1a1a1a" stroke="#1a1a1a" stroke-width="0.3">Chr07</text><path d="M379.00 113v1.5" stroke="#333" stroke-width="0.6"/><text transform="translate(380.80,123.2) rotate(-29)" text-anchor="middle" font-size="7.5" font-weight="bold" fill="#1a1a1a" stroke="#1a1a1a" stroke-width="0.3">Chr08</text><path d="M415.75 113v1.5" stroke="#333" stroke-width="0.6"/><text transform="translate(417.55,123.2) rotate(-29)" text-anchor="middle" font-size="7.5" font-weight="bold" fill="#1a1a1a" stroke="#1a1a1a" stroke-width="0.3">Chr09</text><path d="M446.12 113v1.5" stroke="#333" stroke-width="0.6"/><text transform="translate(447.93,123.2) rotate(-29)" text-anchor="middle" font-size="7.5" font-weight="bold" fill="#1a1a1a" stroke="#1a1a1a" stroke-width="0.3">Chr10</text><path d="M481.62 113v1.5" stroke="#333" stroke-width="0.6"/><text transform="translate(483.43,123.2) rotate(-29)" text-anchor="middle" font-size="7.5" font-weight="bold" fill="#1a1a1a" stroke="#1a1a1a" stroke-width="0.3">Chr11</text><rect x="103" y="150.8" width="425.00" height="94.90" fill="#ebebeb"/><path d="M103 166.16H528M103 187.49H528M103 208.81H528M103 230.14H528M164.94 150.8V245.7M201.94 150.8V245.7M239.00 150.8V245.7M273.50 150.8V245.7M303.31 150.8V245.7M330.44 150.8V245.7M362.69 150.8V245.7M399.56 150.8V245.7M433.00 150.8V245.7M466.00 150.8V245.7M110.50 150.8V245.7M514.00 150.8V245.7M519.80 150.8V245.7" stroke="#f6f6f6" stroke-width="0.5" fill="none"/><path d="M103 155.50H528M103 176.83H528M103 198.15H528M103 219.48H528M103 240.80H528M146.75 150.8V245.7M183.12 150.8V245.7M220.75 150.8V245.7M257.25 150.8V245.7M289.75 150.8V245.7M316.88 150.8V245.7M344.00 150.8V245.7M381.38 150.8V245.7M417.75 150.8V245.7M448.25 150.8V245.7M483.75 150.8V245.7" stroke="#fff" stroke-width="0.9" fill="none"/><path fill="#ea66a6" d="M129.2 155.5h1.6V224.3h-1.6zM129.2 232.3h1.6V234h-1.6zM130.8 155.5h1.6V196.6h-1.6zM130.8 198.2h1.6V201.4h-1.6zM130.8 203h1.6V204.6h-1.6zM130.8 206.2h1.6V214.2h-1.6zM130.8 215.8h1.6V219h-1.6zM130.8 230.2h1.6V231.8h-1.6zM132.4 155.5h1.6V226.1h-1.6zM132.4 230.9h1.6V232.5h-1.6zM134 155.5h1.6V217.5h-1.6zM134 219.1h1.6V220.7h-1.6zM134 223.9h1.6V227.1h-1.6zM134 231.9h1.6V233.5h-1.6zM135.6 155.5h1.6V215h-1.6zM135.6 216.6h1.6V219.8h-1.6zM135.6 223h1.6V226.2h-1.6zM135.6 227.8h1.6V231h-1.6zM135.6 232.6h1.6V234h-1.6zM137.2 155.5h1.6V201.8h-1.6zM137.2 203.4h1.6V205h-1.6zM137.2 206.6h1.6V213h-1.6zM137.2 219.4h1.6V227.4h-1.6zM137.2 229h1.6V232.2h-1.6zM138.8 155.5h1.6V220.1h-1.6zM138.8 221.7h1.6V223.3h-1.6zM138.8 224.9h1.6V228.1h-1.6zM140.4 155.5h1.6V226.2h-1.6zM140.4 227.8h1.6V232.6h-1.6zM142 155.5h1.6V219.7h-1.6zM142 221.3h1.6V224.5h-1.6zM142 229.3h1.6V232.5h-1.6zM143.6 155.5h1.6V215.9h-1.6zM143.6 217.5h1.6V220.7h-1.6zM143.6 222.3h1.6V228.7h-1.6zM143.6 231.9h1.6V234h-1.6zM145.2 155.5h1.6V206.9h-1.6zM145.2 210.1h1.6V216.5h-1.6zM145.2 219.7h1.6V222.9h-1.6zM146.8 155.5h1.6V217h-1.6zM146.8 220.2h1.6V221.8h-1.6zM146.8 225h1.6V234h-1.6zM148.4 155.5h1.6V205.5h-1.6zM148.4 208.7h1.6V211.9h-1.6zM148.4 213.5h1.6V218.3h-1.6zM148.4 219.9h1.6V221.5h-1.6zM148.4 223.1h1.6V226.3h-1.6zM148.4 229.5h1.6V231.1h-1.6zM148.4 232.7h1.6V234h-1.6zM150 155.5h1.6V208.3h-1.6zM150 209.9h1.6V224.3h-1.6zM150 227.5h1.6V230.7h-1.6zM151.6 155.5h1.6V198.3h-1.6zM151.6 201.5h1.6V203.1h-1.6zM151.6 206.3h1.6V207.9h-1.6zM151.6 211.1h1.6V212.7h-1.6zM151.6 215.9h1.6V217.5h-1.6zM151.6 228.7h1.6V230.3h-1.6zM153.2 155.5h1.6V217.9h-1.6zM153.2 219.5h1.6V221.1h-1.6zM153.2 224.3h1.6V227.5h-1.6zM153.2 230.7h1.6V234h-1.6zM154.8 155.5h1.6V199.6h-1.6zM154.8 201.2h1.6V218.8h-1.6zM154.8 220.4h1.6V228.4h-1.6zM156.4 155.5h1.6V202.2h-1.6zM156.4 203.8h1.6V219.8h-1.6zM156.4 223h1.6V226.2h-1.6zM156.4 227.8h1.6V229.4h-1.6zM156.4 232.6h1.6V234h-1.6zM158 155.5h1.6V214.1h-1.6zM158 215.7h1.6V223.7h-1.6zM158 225.3h1.6V226.9h-1.6zM158 230.1h1.6V231.7h-1.6zM158 233.3h1.6V234h-1.6zM159.6 155.5h1.6V213.3h-1.6zM159.6 214.9h1.6V227.7h-1.6zM159.6 230.9h1.6V234h-1.6zM161.2 155.5h1.6V217.9h-1.6zM161.2 221.1h1.6V222.7h-1.6zM161.2 225.9h1.6V227.5h-1.6zM162.8 155.5h1.4V201.5h-1.4zM162.8 203.1h1.4V209.5h-1.4zM162.8 212.7h1.4V220.7h-1.4zM162.8 222.3h1.4V223.9h-1.4zM130.8 239.9h1.6V241.7h-1.6zM132.4 239.9h1.6V241.7h-1.6zM134 239.9h1.6V241.7h-1.6zM135.6 239.9h1.6V241.7h-1.6zM138.8 239.9h1.6V241.7h-1.6zM140.4 239.9h1.6V241.7h-1.6zM142 239.9h1.6V241.7h-1.6zM145.2 239.9h1.6V241.7h-1.6zM148.4 239.9h1.6V241.7h-1.6zM150 239.9h1.6V241.7h-1.6zM151.6 239.9h1.6V241.7h-1.6zM154.8 239.9h1.6V241.7h-1.6zM156.4 239.9h1.6V241.7h-1.6zM158 239.9h1.6V241.7h-1.6zM159.6 239.9h1.6V241.7h-1.6z"/><path fill="#1bbde9" d="M165.8 155.5h1.6V240.8h-1.6zM167.3 155.5h1.6V240.8h-1.6zM168.9 155.5h1.6V240.8h-1.6zM170.5 155.5h1.6V240.8h-1.6zM172.1 155.5h1.6V240.8h-1.6zM173.7 155.5h1.6V240.8h-1.6zM175.3 155.5h1.6V240.8h-1.6zM176.9 155.5h1.6V240.8h-1.6zM178.5 155.5h1.6V240.8h-1.6zM180.1 155.5h1.6V240.8h-1.6zM181.7 155.5h1.6V240.8h-1.6zM183.3 155.5h1.6V240.8h-1.6zM184.9 155.5h1.6V240.8h-1.6zM186.5 155.5h1.6V240.8h-1.6zM188.1 155.5h1.6V240.8h-1.6zM189.7 155.5h1.6V240.8h-1.6zM191.3 155.5h1.4V240.8h-1.4zM192.7 155.5h1.6V196.3h-1.6zM192.7 197.9h1.6V215.5h-1.6zM192.7 217.1h1.6V218.7h-1.6zM192.7 220.3h1.6V226.7h-1.6zM192.7 231.5h1.6V237.9h-1.6zM194.3 155.5h1.6V239.1h-1.6zM195.9 155.5h1.6V214.4h-1.6zM195.9 216h1.6V230.4h-1.6zM195.9 232h1.6V233.6h-1.6zM195.9 235.2h1.6V239.1h-1.6zM197.5 155.5h1.6V239.1h-1.6zM199.1 155.5h1.4V201h-1.4zM199.1 202.6h1.4V225h-1.4zM199.1 226.6h1.4V239.1h-1.4z"/><path fill="#25d068" d="M202.5 155.5h1.6V202.6h-1.6zM202.5 204.2h1.6V207.4h-1.6zM202.5 218.6h1.6V221.8h-1.6zM202.5 223.4h1.6V225h-1.6zM202.5 226.6h1.6V228.2h-1.6zM202.5 229.8h1.6V233h-1.6zM204.1 155.5h1.6V201.2h-1.6zM204.1 202.8h1.6V206h-1.6zM204.1 212.4h1.6V214h-1.6zM204.1 220.4h1.6V222h-1.6zM204.1 226.8h1.6V230h-1.6zM205.7 155.5h1.6V204.3h-1.6zM205.7 205.9h1.6V213.9h-1.6zM205.7 215.5h1.6V218.7h-1.6zM205.7 221.9h1.6V223.5h-1.6zM205.7 231.5h1.6V233.1h-1.6zM205.7 236.3h1.6V236.5h-1.6zM207.3 155.5h1.6V205.3h-1.6zM207.3 206.9h1.6V208.5h-1.6zM207.3 210.1h1.6V219.7h-1.6zM207.3 230.9h1.6V234.1h-1.6zM208.9 155.5h1.6V207.6h-1.6zM208.9 212.4h1.6V217.2h-1.6zM208.9 226.8h1.6V228.4h-1.6zM210.5 155.5h1.6V197.8h-1.6zM210.5 202.6h1.6V212.2h-1.6zM210.5 213.8h1.6V220.2h-1.6zM210.5 223.4h1.6V225h-1.6zM210.5 233h1.6V236.2h-1.6zM212.1 155.5h1.6V202.5h-1.6zM212.1 204.1h1.6V210.5h-1.6zM212.1 213.7h1.6V215.3h-1.6zM212.1 216.9h1.6V220.1h-1.6zM212.1 221.7h1.6V224.9h-1.6zM212.1 229.7h1.6V231.3h-1.6zM212.1 232.9h1.6V234.5h-1.6zM213.7 155.5h1.6V220.3h-1.6zM213.7 223.5h1.6V226.7h-1.6zM213.7 228.3h1.6V229.9h-1.6zM213.7 231.5h1.6V233.1h-1.6zM213.7 234.7h1.6V236.5h-1.6zM215.3 155.5h1.6V206.1h-1.6zM215.3 207.7h1.6V212.5h-1.6zM215.3 214.1h1.6V222.1h-1.6zM215.3 228.5h1.6V230.1h-1.6zM215.3 234.9h1.6V236.5h-1.6zM216.9 155.5h1.6V209.8h-1.6zM216.9 211.4h1.6V222.6h-1.6zM216.9 224.2h1.6V225.8h-1.6zM216.9 227.4h1.6V229h-1.6zM216.9 230.6h1.6V232.2h-1.6zM216.9 235.4h1.6V236.5h-1.6zM218.5 155.5h1.6V197.3h-1.6zM218.5 198.9h1.6V203.7h-1.6zM218.5 205.3h1.6V210.1h-1.6zM218.5 213.3h1.6V214.9h-1.6zM218.5 227.7h1.6V229.3h-1.6zM220.1 155.5h1.6V195.5h-1.6zM220.1 197.1h1.6V219.5h-1.6zM220.1 221.1h1.6V222.7h-1.6zM220.1 224.3h1.6V225.9h-1.6zM220.1 227.5h1.6V232.3h-1.6zM221.7 155.5h1.6V205.4h-1.6zM221.7 213.4h1.6V219.8h-1.6zM221.7 231h1.6V232.6h-1.6zM223.3 155.5h0.4V210.9h-0.4zM223.3 212.5h0.4V218.9h-0.4zM223.3 220.5h0.4V223.7h-0.4zM223.3 225.3h0.4V231.7h-0.4zM223.3 233.3h0.4V234.9h-0.4zM223.7 155.5h1.6V215.6h-1.6zM223.7 217.2h1.6V226.8h-1.6zM223.7 228.4h1.6V230h-1.6zM223.7 233.2h1.6V236.4h-1.6zM225.3 155.5h1.6V217.7h-1.6zM225.3 220.9h1.6V222.5h-1.6zM225.3 227.3h1.6V228.9h-1.6zM225.3 233.7h1.6V235.3h-1.6zM225.3 236.9h1.6V238.5h-1.6zM226.9 155.5h1.6V214.5h-1.6zM226.9 216.1h1.6V217.7h-1.6zM226.9 219.3h1.6V220.9h-1.6zM226.9 222.5h1.6V224.1h-1.6zM226.9 227.3h1.6V228.9h-1.6zM226.9 238.5h1.6V239.1h-1.6zM228.5 155.5h1.6V228.1h-1.6zM228.5 229.7h1.6V231.3h-1.6zM228.5 236.1h1.6V237.7h-1.6zM230.1 155.5h1.6V227.9h-1.6zM230.1 229.5h1.6V239.1h-1.6zM231.7 155.5h1.4V239.1h-1.4zM233.1 155.5h1.6V239.1h-1.6zM234.7 155.5h1.6V239.1h-1.6zM236.3 155.5h1.6V238.2h-1.6zM237.9 155.5h1.1V239.1h-1.1zM204.1 239.9h1.6V241.7h-1.6zM205.7 239.9h1.6V241.7h-1.6zM208.9 239.9h1.6V241.7h-1.6zM210.5 239.9h1.6V241.7h-1.6zM216.9 239.9h1.6V241.7h-1.6zM224.9 239.9h1.6V241.7h-1.6zM229.7 239.9h1.6V241.7h-1.6zM232.9 239.9h1.6V241.7h-1.6zM234.5 239.9h1.6V241.7h-1.6zM236.1 239.9h1.6V241.7h-1.6z"/><path fill="#f3920f" d="M240.8 155.5h1.6V239.1h-1.6zM242.3 155.5h1.6V237h-1.6zM242.3 238.6h1.6V239.1h-1.6zM243.9 155.5h1.6V227.1h-1.6zM243.9 228.7h1.6V239.1h-1.6zM245.5 155.5h1.6V213.3h-1.6zM245.5 214.9h1.6V216.5h-1.6zM245.5 218.1h1.6V234.1h-1.6zM247.1 155.5h1.6V239h-1.6zM248.7 155.5h1.6V220.9h-1.6zM248.7 222.5h1.6V228.9h-1.6zM248.7 233.7h1.6V238.5h-1.6zM250.3 155.5h1.6V216.6h-1.6zM250.3 218.2h1.6V239.1h-1.6zM251.9 155.5h1.6V235h-1.6zM251.9 236.6h1.6V239.1h-1.6zM253.5 155.5h1.6V222.7h-1.6zM253.5 224.3h1.6V233.9h-1.6zM253.5 237.1h1.6V238.7h-1.6zM255.1 155.5h1.6V239.1h-1.6zM256.7 155.5h1.6V215.9h-1.6zM256.7 217.5h1.6V220.7h-1.6zM256.7 222.3h1.6V223.9h-1.6zM256.7 227.1h1.6V228.7h-1.6zM256.7 230.3h1.6V239.1h-1.6zM258.3 155.5h1.6V231.8h-1.6zM258.3 233.4h1.6V239.1h-1.6zM259.9 155.5h1.6V239.1h-1.6zM261.6 155.5h1.6V222.3h-1.6zM261.6 223.9h1.6V225.5h-1.6zM261.6 227.1h1.6V228.7h-1.6zM261.6 231.9h1.6V233.5h-1.6zM261.6 235.1h1.6V236.7h-1.6zM261.6 238.3h1.6V239.1h-1.6zM263.2 155.5h1.6V215.4h-1.6zM263.2 217h1.6V225h-1.6zM263.2 226.6h1.6V231.4h-1.6zM263.2 233h1.6V237.8h-1.6zM264.8 155.5h1.6V239.1h-1.6zM266.4 155.5h1.6V239.1h-1.6zM268 155.5h1.6V239.1h-1.6zM269.6 155.5h1.6V239.1h-1.6zM271.2 155.5h1.6V209.2h-1.6zM271.2 212.4h1.6V218.8h-1.6zM271.2 220.4h1.6V226.8h-1.6zM271.2 228.4h1.6V236.4h-1.6zM271.2 238h1.6V239.1h-1.6zM272.8 155.5h1V226.8h-1zM272.8 228.4h1V239.1h-1zM240.8 239.9h1.6V241.7h-1.6zM242.3 239.9h1.6V241.7h-1.6zM243.9 239.9h1.6V241.7h-1.6zM245.5 239.9h1.6V241.7h-1.6zM247.1 239.9h1.6V241.7h-1.6zM248.7 239.9h1.6V241.7h-1.6zM250.3 239.9h1.6V241.7h-1.6zM251.9 239.9h1.6V241.7h-1.6zM253.5 239.9h1.6V241.7h-1.6zM255.1 239.9h1.6V241.7h-1.6zM258.3 239.9h1.6V241.7h-1.6zM259.9 239.9h1.6V241.7h-1.6zM261.6 239.9h1.6V241.7h-1.6zM266.4 239.9h1.6V241.7h-1.6zM268 239.9h1.6V241.7h-1.6zM269.6 239.9h1.6V241.7h-1.6zM271.2 239.9h1.6V241.7h-1.6z"/><path fill="#ea66a6" d="M275.5 155.5h1.6V239.1h-1.6zM277.1 155.5h1.6V239.1h-1.6zM278.7 155.5h1.6V239.1h-1.6zM280.3 155.5h1.6V239.1h-1.6zM281.9 155.5h1.6V239.1h-1.6zM283.5 155.5h0.2V239.1h-0.2zM283.7 155.5h1.6V211.1h-1.6zM283.7 215.9h1.6V220.7h-1.6zM283.7 223.9h1.6V225.5h-1.6zM283.7 231.9h1.6V233.5h-1.6zM285.3 155.5h1.6V214.4h-1.6zM285.3 216h1.6V217.6h-1.6zM285.3 220.8h1.6V222.4h-1.6zM285.3 224h1.6V225.6h-1.6zM285.3 233.6h1.6V235.2h-1.6zM286.9 155.5h1.6V207.5h-1.6zM286.9 209.1h1.6V228.3h-1.6zM286.9 231.5h1.6V234.7h-1.6zM288.5 155.5h1.6V227.5h-1.6zM288.5 230.7h1.6V232.3h-1.6zM288.5 235.5h1.6V236.5h-1.6zM290.1 155.5h1.6V215.2h-1.6zM290.1 216.8h1.6V218.4h-1.6zM290.1 223.2h1.6V226.4h-1.6zM291.7 155.5h1.6V207.5h-1.6zM291.7 212.3h1.6V221.9h-1.6zM291.7 231.5h1.6V234.7h-1.6zM293.3 155.5h1.6V212.1h-1.6zM293.3 213.7h1.6V216.9h-1.6zM293.3 218.5h1.6V221.7h-1.6zM293.3 226.5h1.6V228.1h-1.6zM293.3 229.7h1.6V232.9h-1.6zM293.3 236.1h1.6V236.5h-1.6zM294.9 155.5h1.6V227.7h-1.6zM294.9 229.3h1.6V230.9h-1.6zM294.9 232.5h1.6V235.7h-1.6zM296.5 155.5h1.6V210.1h-1.6zM296.5 211.7h1.6V213.3h-1.6zM296.5 214.9h1.6V218.1h-1.6zM296.5 219.7h1.6V224.5h-1.6zM296.5 229.3h1.6V230.9h-1.6zM298.1 155.5h1.6V213h-1.6zM298.1 214.6h1.6V224.2h-1.6zM298.1 225.8h1.6V227.4h-1.6zM298.1 232.2h1.6V236.5h-1.6zM299.7 155.5h0.4V217.5h-0.4zM299.7 219.1h0.4V222.3h-0.4zM299.7 223.9h0.4V225.5h-0.4zM299.7 227.1h0.4V228.7h-0.4zM299.7 230.3h0.4V231.9h-0.4zM300.1 155.5h1.6V239.1h-1.6zM301.7 155.5h1.6V239.1h-1.6zM303.3 155.5h0.7V239.1h-0.7zM275.5 239.9h1.6V241.7h-1.6zM281.9 239.9h1.6V241.7h-1.6zM283.5 239.9h1.6V241.7h-1.6zM285.1 239.9h1.6V241.7h-1.6zM286.7 239.9h1.6V241.7h-1.6zM288.3 239.9h1.6V241.7h-1.6zM293.1 239.9h1.6V241.7h-1.6zM297.9 239.9h1.6V241.7h-1.6zM302.7 239.9h1.3V241.7h-1.3z"/><path fill="#1bbde9" d="M305.8 155.5h1.6V239.1h-1.6zM307.4 155.5h1.6V239.1h-1.6zM309 155.5h1.6V239.1h-1.6zM310.6 155.5h1.6V239.1h-1.6zM312.2 155.5h1.6V239.1h-1.6zM313.8 155.5h1.6V239.1h-1.6zM315.4 155.5h1.6V239.1h-1.6zM317 155.5h0.6V239.1h-0.6zM317.6 155.5h1.2V224.8h-1.2zM317.6 226.4h1.2V228h-1.2zM317.6 229.6h1.2V231.2h-1.2zM318.8 155.5h1.6V239.1h-1.6zM320.4 155.5h0.7V239.1h-0.7zM321.1 155.5h1.6V226.2h-1.6zM321.1 237.4h1.6V239h-1.6zM322.7 155.5h0.2V229.9h-0.2zM322.9 155.5h1.6V239.1h-1.6zM324.5 155.5h1.6V239.1h-1.6zM326.1 155.5h1.6V239.1h-1.6zM327.7 155.5h0.3V239.1h-0.3z"/><path fill="#25d068" d="M330 155.5h1.6V197.1h-1.6zM330 198.7h1.6V201.9h-1.6zM330 203.5h1.6V206.7h-1.6zM330 209.9h1.6V213.1h-1.6zM330 235.5h1.6V236.5h-1.6zM331.6 155.5h1.6V190h-1.6zM331.6 191.6h1.6V193.2h-1.6zM331.6 196.4h1.6V198h-1.6zM331.6 199.6h1.6V201.2h-1.6zM331.6 206h1.6V207.6h-1.6zM331.6 210.8h1.6V212.4h-1.6zM331.6 214h1.6V215.6h-1.6zM331.6 228.4h1.6V230h-1.6zM333.2 155.5h1.6V202.2h-1.6zM333.2 203.8h1.6V207h-1.6zM333.2 210.2h1.6V215h-1.6zM333.2 218.2h1.6V224.6h-1.6zM333.2 231h1.6V232.6h-1.6zM334.8 155.5h1.6V216.3h-1.6zM336.4 155.5h1.6V220h-1.6zM336.4 223.2h1.6V224.8h-1.6zM338 155.5h1.6V215.3h-1.6zM338 218.5h1.6V220.1h-1.6zM338 224.9h1.6V226.5h-1.6zM338 229.7h1.6V231.3h-1.6zM339.6 155.5h1.3V209.7h-1.3zM339.6 211.3h1.3V214.5h-1.3zM339.6 217.7h1.3V220.9h-1.3zM339.6 224.1h1.3V225.7h-1.3zM339.6 235.3h1.3V236.5h-1.3zM340.9 155.5h1.6V239.1h-1.6zM342.5 155.5h0.7V239.1h-0.7zM343.2 155.5h1.6V208.3h-1.6zM343.2 211.5h1.6V217.9h-1.6zM343.2 221.1h1.6V222.7h-1.6zM343.2 225.9h1.6V227.5h-1.6zM344.8 155.5h1.6V211.9h-1.6zM344.8 215.1h1.6V223.1h-1.6zM344.8 226.3h1.6V227.9h-1.6zM344.8 231.1h1.6V232.7h-1.6zM344.8 234.3h1.6V235.9h-1.6zM346.4 155.5h1.6V205.4h-1.6zM346.4 207h1.6V216.6h-1.6zM346.4 218.2h1.6V219.8h-1.6zM346.4 231h1.6V232.6h-1.6zM346.4 234.2h1.6V235.8h-1.6zM348 155.5h1.6V209.6h-1.6zM348 211.2h1.6V214.4h-1.6zM348 216h1.6V217.6h-1.6zM348 220.8h1.6V222.4h-1.6zM348 224h1.6V225.6h-1.6zM348 228.8h1.6V230.4h-1.6zM349.6 155.5h1.6V199.5h-1.6zM349.6 201.1h1.6V202.7h-1.6zM349.6 207.5h1.6V209.1h-1.6zM349.6 210.7h1.6V217.1h-1.6zM349.6 218.7h1.6V220.3h-1.6zM351.2 155.5h0.8V200.1h-0.8zM351.2 204.9h0.8V208.1h-0.8zM351.2 211.3h0.8V212.9h-0.8zM351.2 217.7h0.8V219.3h-0.8zM351.2 228.9h0.8V230.5h-0.8zM352 155.5h1.6V239.1h-1.6zM353.6 155.5h1.6V239.1h-1.6zM355.2 155.5h0.9V239.1h-0.9zM356.1 155.5h1.6V217.2h-1.6zM356.1 218.8h1.6V223.6h-1.6zM356.1 225.2h1.6V228.4h-1.6zM357.7 155.5h0.3V213.4h-0.3zM357.7 215h0.3V221.4h-0.3zM357.7 223h0.3V224.6h-0.3zM357.7 234.2h0.3V235.8h-0.3zM330 239.9h1.6V241.7h-1.6zM331.6 239.9h1.6V241.7h-1.6zM336.4 239.9h1.6V241.7h-1.6zM338 239.9h1.6V241.7h-1.6zM339.6 239.9h1.6V241.7h-1.6zM341.2 239.9h1.6V241.7h-1.6zM342.8 239.9h1.6V241.7h-1.6zM344.4 239.9h1.6V241.7h-1.6zM347.6 239.9h1.6V241.7h-1.6zM350.8 239.9h1.6V241.7h-1.6zM355.6 239.9h1.6V241.7h-1.6z"/><path fill="#f3920f" d="M360 155.5h1.6V231.5h-1.6zM360 233.1h1.6V239.1h-1.6zM361.6 155.5h1.6V239.1h-1.6zM363.2 155.5h1.6V228.1h-1.6zM363.2 229.7h1.6V234.5h-1.6zM363.2 236.1h1.6V239.1h-1.6zM364.8 155.5h1.6V239.1h-1.6zM366.4 155.5h1.6V239.1h-1.6zM368 155.5h1.6V236.6h-1.6zM368 238.2h1.6V239.1h-1.6zM369.6 155.5h1.6V230h-1.6zM369.6 231.6h1.6V239.1h-1.6zM371.2 155.5h1.6V239.1h-1.6zM372.8 155.5h1.6V239.1h-1.6zM374.4 155.5h1.6V239.1h-1.6zM376 155.5h1.6V239.1h-1.6zM377.6 155.5h1.6V239.1h-1.6zM379.2 155.5h0.8V239.1h-0.8zM380 155.5h1.6V232.3h-1.6zM380 233.9h1.6V239.1h-1.6zM381.6 155.5h1.6V239.1h-1.6zM383.2 155.5h1.6V239.1h-1.6zM384.8 155.5h1.6V236.8h-1.6zM384.8 238.4h1.6V239.1h-1.6zM386.4 155.5h1.6V230.4h-1.6zM386.4 232h1.6V239.1h-1.6zM388 155.5h1.6V236.5h-1.6zM388 238.1h1.6V239.1h-1.6zM389.6 155.5h1.6V225.4h-1.6zM389.6 227h1.6V239.1h-1.6zM391.2 155.5h0.8V236.9h-0.8zM391.2 238.5h0.8V239.1h-0.8zM392 155.5h1.6V228h-1.6zM392 229.6h1.6V239.1h-1.6zM393.6 155.5h1.6V232.4h-1.6zM393.6 234h1.6V238.8h-1.6zM395.2 155.5h1.6V239.1h-1.6zM396.8 155.5h1.6V239.1h-1.6zM398.4 155.5h1.6V232.1h-1.6zM398.4 233.7h1.6V239.1h-1.6zM400 155.5h1.6V232.2h-1.6zM400 233.8h1.6V239.1h-1.6zM401.6 155.5h1.1V239.1h-1.1zM360 239.9h1.6V241.7h-1.6zM361.6 239.9h1.6V241.7h-1.6zM364.8 239.9h1.6V241.7h-1.6zM368 239.9h1.6V241.7h-1.6zM369.6 239.9h1.6V241.7h-1.6zM371.2 239.9h1.6V241.7h-1.6zM372.8 239.9h1.6V241.7h-1.6zM374.4 239.9h1.6V241.7h-1.6zM376 239.9h1.6V241.7h-1.6zM379.2 239.9h1.6V241.7h-1.6zM380.8 239.9h1.6V241.7h-1.6zM382.4 239.9h1.6V241.7h-1.6zM384 239.9h1.6V241.7h-1.6zM385.6 239.9h1.6V241.7h-1.6zM387.2 239.9h1.6V241.7h-1.6zM388.8 239.9h1.6V241.7h-1.6zM393.6 239.9h1.6V241.7h-1.6zM395.2 239.9h1.6V241.7h-1.6zM396.8 239.9h1.6V241.7h-1.6zM398.4 239.9h1.6V241.7h-1.6zM400 239.9h1.6V241.7h-1.6zM401.6 239.9h1.1V241.7h-1.1z"/><path fill="#ea66a6" d="M404.5 155.5h1.6V239.1h-1.6zM406.1 155.5h1.6V239.1h-1.6zM407.7 155.5h1.6V239.1h-1.6zM409.3 155.5h1.6V239.1h-1.6zM410.9 155.5h1.6V239.1h-1.6zM412.5 155.5h1.6V239.1h-1.6zM414.1 155.5h1.6V239.1h-1.6zM415.7 155.5h0.1V239.1h-0.1zM415.8 155.5h1.6V204.7h-1.6zM415.8 206.3h1.6V209.5h-1.6zM415.8 211.1h1.6V212.7h-1.6zM415.8 214.3h1.6V217.5h-1.6zM415.8 220.7h1.6V222.3h-1.6zM417.4 155.5h1.6V209h-1.6zM417.4 210.6h1.6V215.4h-1.6zM417.4 217h1.6V218.6h-1.6zM417.4 221.8h1.6V226.6h-1.6zM417.4 228.2h1.6V229.8h-1.6zM419 155.5h1.6V197h-1.6zM419 198.6h1.6V200.2h-1.6zM419 205h1.6V206.6h-1.6zM419 208.2h1.6V213h-1.6zM419 216.2h1.6V217.8h-1.6zM419 227.4h1.6V229h-1.6zM419 235.4h1.6V236.5h-1.6zM420.6 155.5h1.6V210h-1.6zM420.6 211.6h1.6V218h-1.6zM420.6 219.6h1.6V221.2h-1.6zM420.6 227.6h1.6V229.2h-1.6zM422.2 155.5h1.6V209.7h-1.6zM422.2 211.3h1.6V212.9h-1.6zM422.2 224.1h1.6V225.7h-1.6zM422.2 233.7h1.6V235.3h-1.6zM423.8 155.5h1.6V205.2h-1.6zM423.8 206.8h1.6V213.2h-1.6zM423.8 214.8h1.6V218h-1.6zM423.8 219.6h1.6V222.8h-1.6zM423.8 230.8h1.6V234h-1.6zM425.4 155.5h1.6V213.3h-1.6zM425.4 214.9h1.6V216.5h-1.6zM425.4 218.1h1.6V221.3h-1.6zM425.4 222.9h1.6V224.5h-1.6zM427 155.5h1.6V203.9h-1.6zM427 205.5h1.6V207.1h-1.6zM427 213.5h1.6V216.7h-1.6zM427 218.3h1.6V219.9h-1.6zM427 227.9h1.6V229.5h-1.6zM428.6 155.5h1.6V209.8h-1.6zM428.6 211.4h1.6V221h-1.6zM428.6 227.4h1.6V230.6h-1.6zM428.6 235.4h1.6V236.5h-1.6zM430.2 155.5h0.8V205.4h-0.8zM430.2 213.4h0.8V215h-0.8zM430.2 218.2h0.8V219.8h-0.8zM430.2 221.4h0.8V223h-0.8zM404.5 239.9h1.6V241.7h-1.6zM407.7 239.9h1.6V241.7h-1.6zM409.3 239.9h1.6V241.7h-1.6zM410.9 239.9h1.6V241.7h-1.6zM412.5 239.9h1.6V241.7h-1.6zM414.1 239.9h1.6V241.7h-1.6zM418.9 239.9h1.6V241.7h-1.6zM420.5 239.9h1.6V241.7h-1.6zM425.3 239.9h1.6V241.7h-1.6zM426.9 239.9h1.6V241.7h-1.6z"/><path fill="#1bbde9" d="M433 155.5h1.6V239.1h-1.6zM434.6 155.5h1.6V239.1h-1.6zM436.2 155.5h1.2V239.1h-1.2zM437.4 155.5h1.6V205.9h-1.6zM437.4 207.5h1.6V212.3h-1.6zM437.4 213.9h1.6V215.5h-1.6zM437.4 217.1h1.6V223.5h-1.6zM437.4 231.5h1.6V233.1h-1.6zM439 155.5h1.6V194.2h-1.6zM439 197.4h1.6V203.8h-1.6zM439 205.4h1.6V221.4h-1.6zM439 229.4h1.6V232.6h-1.6zM440.6 155.5h1.6V222.1h-1.6zM440.6 223.7h1.6V225.3h-1.6zM440.6 228.5h1.6V230.1h-1.6zM442.2 155.5h1.6V199.2h-1.6zM442.2 200.8h1.6V204h-1.6zM442.2 205.6h1.6V210.4h-1.6zM442.2 212h1.6V215.2h-1.6zM442.2 216.8h1.6V220h-1.6zM442.2 224.8h1.6V226.4h-1.6zM443.8 155.5h1.6V202.5h-1.6zM443.8 204.1h1.6V210.5h-1.6zM443.8 213.7h1.6V215.3h-1.6zM443.8 216.9h1.6V220.1h-1.6zM443.8 236.1h1.6V236.5h-1.6zM445.4 155.5h1.6V200.1h-1.6zM445.4 206.5h1.6V212.9h-1.6zM445.4 216.1h1.6V217.7h-1.6zM445.4 224.1h1.6V225.7h-1.6zM445.4 235.3h1.6V236.5h-1.6zM447 155.5h1.6V200.8h-1.6zM447 202.4h1.6V204h-1.6zM447 205.6h1.6V213.6h-1.6zM447 215.2h1.6V216.8h-1.6zM447 218.4h1.6V220h-1.6zM447 223.2h1.6V224.8h-1.6zM447 232.8h1.6V236.5h-1.6zM448.6 155.5h1.6V208.6h-1.6zM448.6 213.4h1.6V218.2h-1.6zM448.6 219.8h1.6V223h-1.6zM448.6 227.8h1.6V231h-1.6zM448.6 232.6h1.6V234.2h-1.6zM448.6 235.8h1.6V236.5h-1.6zM450.2 155.5h1.6V224.9h-1.6zM450.2 226.5h1.6V228.1h-1.6zM450.2 229.7h1.6V231.3h-1.6zM451.8 155.5h1.6V210.7h-1.6zM451.8 212.3h1.6V218.7h-1.6zM451.8 221.9h1.6V223.5h-1.6zM451.8 236.3h1.6V236.5h-1.6zM453.4 155.5h1.6V224.2h-1.6zM453.4 227.4h1.6V229h-1.6zM453.4 230.6h1.6V233.8h-1.6zM455 155.5h1.6V206.6h-1.6zM455 209.8h1.6V216.2h-1.6zM455 217.8h1.6V221h-1.6zM455 225.8h1.6V229h-1.6zM455 232.2h1.6V233.8h-1.6zM456.6 155.5h1.6V196.9h-1.6zM456.6 198.5h1.6V200.1h-1.6zM456.6 201.7h1.6V203.3h-1.6zM456.6 204.9h1.6V208.1h-1.6zM456.6 232.1h1.6V233.7h-1.6zM458.2 155.5h0.3V209.4h-0.3zM458.2 211h0.3V212.6h-0.3zM458.2 214.2h0.3V217.4h-0.3zM458.2 220.6h0.3V223.8h-0.3zM458.2 227h0.3V230.2h-0.3zM458.2 233.4h0.3V235h-0.3zM458.5 155.5h1.6V239.1h-1.6zM460.1 155.5h1.6V239.1h-1.6zM461.7 155.5h1.6V239.1h-1.6zM463.3 155.5h0.2V239.1h-0.2zM433 239.9h1.6V241.7h-1.6zM434.6 239.9h1.6V241.7h-1.6zM436.2 239.9h1.6V241.7h-1.6zM439.4 239.9h1.6V241.7h-1.6zM447.4 239.9h1.6V241.7h-1.6zM450.6 239.9h1.6V241.7h-1.6zM455.4 239.9h1.6V241.7h-1.6zM457 239.9h1.6V241.7h-1.6zM463.4 239.9h0.1V241.7h-0.1z"/><path fill="#25d068" d="M465.5 155.5h1.6V239.1h-1.6zM467.1 155.5h1.6V239.1h-1.6zM468.7 155.5h1.6V239.1h-1.6zM470.3 155.5h1V239.1h-1zM471.3 155.5h1.6V223.7h-1.6zM471.3 225.3h1.6V231.7h-1.6zM471.3 234.9h1.6V238.1h-1.6zM472.9 155.5h1.6V208.1h-1.6zM472.9 212.9h1.6V216.1h-1.6zM472.9 219.3h1.6V220.9h-1.6zM472.9 222.5h1.6V227.3h-1.6zM472.9 228.9h1.6V230.5h-1.6zM472.9 232.1h1.6V233.7h-1.6zM474.5 155.5h1.6V204.8h-1.6zM474.5 206.4h1.6V214.4h-1.6zM474.5 217.6h1.6V220.8h-1.6zM474.5 225.6h1.6V228.8h-1.6zM474.5 230.4h1.6V232h-1.6zM474.5 235.2h1.6V236.8h-1.6zM476.1 155.5h1.6V212.8h-1.6zM476.1 214.4h1.6V216h-1.6zM476.1 217.6h1.6V224h-1.6zM476.1 232h1.6V233.6h-1.6zM476.1 236.8h1.6V238.2h-1.6zM477.7 155.5h1.6V210.9h-1.6zM477.7 212.5h1.6V215.7h-1.6zM477.7 217.3h1.6V218.9h-1.6zM477.7 220.5h1.6V223.7h-1.6zM477.7 225.3h1.6V226.9h-1.6zM477.7 230.1h1.6V233.3h-1.6zM477.7 238.1h1.6V238.2h-1.6zM479.3 155.5h1.6V205.2h-1.6zM479.3 206.8h1.6V208.4h-1.6zM479.3 210h1.6V218h-1.6zM479.3 221.2h1.6V224.4h-1.6zM479.3 229.2h1.6V234h-1.6zM479.3 235.6h1.6V237.2h-1.6zM480.9 155.5h1.6V229.4h-1.6zM480.9 231h1.6V237.4h-1.6zM482.5 155.5h1.6V227.4h-1.6zM482.5 229h1.6V230.6h-1.6zM482.5 233.8h1.6V235.4h-1.6zM482.5 237h1.6V238.2h-1.6zM484.1 155.5h1.6V210.4h-1.6zM484.1 212h1.6V226.4h-1.6zM484.1 231.2h1.6V232.8h-1.6zM484.1 234.4h1.6V236h-1.6zM484.1 237.6h1.6V238.2h-1.6zM485.7 155.5h1.6V226.3h-1.6zM485.7 227.9h1.6V234.3h-1.6zM485.7 237.5h1.6V238.2h-1.6zM487.3 155.5h1.6V223h-1.6zM487.3 224.6h1.6V232.6h-1.6zM488.9 155.5h1.6V212.3h-1.6zM488.9 213.9h1.6V238.2h-1.6zM490.5 155.5h1.6V225.6h-1.6zM490.5 227.2h1.6V230.4h-1.6zM490.5 232h1.6V238.2h-1.6zM492.1 155.5h1.6V214.2h-1.6zM492.1 215.8h1.6V222.2h-1.6zM492.1 223.8h1.6V225.4h-1.6zM492.1 231.8h1.6V236.6h-1.6zM493.7 155.5h1.6V209.2h-1.6zM493.7 210.8h1.6V214h-1.6zM493.7 215.6h1.6V220.4h-1.6zM493.7 222h1.6V225.2h-1.6zM493.7 230h1.6V233.2h-1.6zM493.7 234.8h1.6V238h-1.6zM495.3 155.5h1.6V209.7h-1.6zM495.3 211.3h1.6V220.9h-1.6zM495.3 222.5h1.6V225.7h-1.6zM495.3 227.3h1.6V228.9h-1.6zM495.3 232.1h1.6V233.7h-1.6zM496.9 155.5h1.6V218.5h-1.6zM496.9 220.1h1.6V229.7h-1.6zM496.9 231.3h1.6V234.5h-1.6zM496.9 236.1h1.6V238.2h-1.6zM498.5 155.5h1.6V213.2h-1.6zM498.5 214.8h1.6V216.4h-1.6zM498.5 218h1.6V221.2h-1.6zM498.5 222.8h1.6V227.6h-1.6zM498.5 229.2h1.6V232.4h-1.6zM498.5 234h1.6V235.6h-1.6zM498.5 237.2h1.6V238.2h-1.6zM500.1 155.5h1.6V203.3h-1.6zM500.1 206.5h1.6V216.1h-1.6zM500.1 217.7h1.6V219.3h-1.6zM500.1 224.1h1.6V225.7h-1.6zM500.1 230.5h1.6V232.1h-1.6zM501.7 155.5h0.3V212.3h-0.3zM501.7 213.9h0.3V221.9h-0.3zM501.7 225.1h0.3V226.7h-0.3zM501.7 231.5h0.3V233.1h-0.3zM501.7 237.9h0.3V238.2h-0.3zM467.1 239.9h1.6V241.7h-1.6zM478.3 239.9h1.6V241.7h-1.6zM481.5 239.9h1.6V241.7h-1.6zM483.1 239.9h1.6V241.7h-1.6zM484.7 239.9h1.6V241.7h-1.6zM486.3 239.9h1.6V241.7h-1.6zM487.9 239.9h1.6V241.7h-1.6zM489.5 239.9h1.6V241.7h-1.6zM491.1 239.9h1.6V241.7h-1.6zM492.7 239.9h1.6V241.7h-1.6zM494.3 239.9h1.6V241.7h-1.6zM495.9 239.9h1.6V241.7h-1.6zM499.1 239.9h1.6V241.7h-1.6zM500.7 239.9h1.3V241.7h-1.3z"/><path d="M103 198.15H528" stroke="#7a7a7a" stroke-width="0.9" stroke-dasharray="2.6,2.6"/><path d="M130.1 179L131.3 179.6L132.4 174.9L133.6 172L135.4 171.4L137.7 172.6L141.2 173.7L144.7 174.7L148.2 173.7L151.7 172.8L155.2 172.3L157.6 172.6L158.2 177.2L159.3 174.9L160.5 173.1L161.1 170.2L161.7 176.1L162.3 184.3L163.4 187.2" fill="none" stroke="#000" stroke-width="1.75" stroke-linejoin="round"/><path d="M166.4 173.1L168.1 174.3L168.7 183.1L169.3 198.3L169.9 204.1L171.6 207.6L174 209.4L176.3 208.8L178.6 207.6L181 208.8L183.3 207.1L184.5 208.2L185.6 210L186.8 207.6L189.2 205.9L190.9 204.1L192.4 199.5L192.9 183.1L193.3 171.4L194.4 172L195.2 177.2L195.9 183.1L197.3 181.9L199.1 179.6L199.9 179" fill="none" stroke="#000" stroke-width="1.75" stroke-linejoin="round"/><path d="M203.3 165.5L204.4 166.1L205.6 175.5L207.4 174.3L209.1 174.9L210.9 173.1L213.2 173.7L215.5 174.3L217.9 173.7L220.2 174.9L222.6 174.3L224.9 173.1L227.2 172.6L229.6 172.8L231.3 174.3L232.5 186.6L233.7 183.1L234.8 181.9L235.4 186.6L236.6 188.4L238.4 190.1" fill="none" stroke="#000" stroke-width="1.75" stroke-linejoin="round"/><path d="M241.5 175.5L242.4 174.3L243 179.6L244.2 181.3L246 180.2L248.3 179.6L249.5 179L250.6 172L251.8 168.5L253 167.9L254.7 172L255.9 170.8L257.1 167.9L258.8 166.7L260.6 166.1L262.3 167.3L263.5 172L265.3 173.7L266.4 181.9L267.6 180.7L269.3 183.1L271.1 182.5L271.9 176.7L273.1 173.7" fill="none" stroke="#000" stroke-width="1.75" stroke-linejoin="round"/><path d="M276.4 174.9L277.3 192.4L278.4 185.4L279.6 178.4L281.4 177.8L283.1 177.2L284.9 176.1L286 173.1L288.4 172.6L290.7 172L292.5 171.4L294.2 172L296.6 171.4L298.9 170.8L300.1 178.4L301.2 179.6L302.2 176.1L303.3 172" fill="none" stroke="#000" stroke-width="1.75" stroke-linejoin="round"/><path d="M306.9 202.4L308.3 204.1L310 206.5L312.4 207.1L314.1 208.2L315.9 207.6L317 211.2L318.2 173.7L318.8 211.2L320 215.3L321.7 215.3L322.9 211.2L323.5 172.6L324 197.1L324.6 187.8L325.8 180.7L327 177.2" fill="none" stroke="#000" stroke-width="1.75" stroke-linejoin="round"/><path d="M330.6 168.5L332.1 169.6L333.8 172.6L336.2 174.9L338.5 173.1L340.3 172.6L341.5 186.6L343.2 188.4L343.8 173.1L346.1 173.1L348.5 172.6L350.8 171.4L352 170.8L353.1 178.4L354.3 188.4L355.5 193L356.1 174.9L357.2 171.4" fill="none" stroke="#000" stroke-width="1.75" stroke-linejoin="round"/><path d="M360.7 178.4L361.9 179.6L363.7 177.8L365.4 176.7L367.8 176.1L370.1 174.3L372.4 173.7L374.8 172.8L377.1 172.8L379.5 173.5L381.8 174.3L384.1 174.7L386.5 174.7L388.8 174L391.2 174.7L393.5 176.7L395.3 178.2L397 178.6L398.8 178.6L400.5 177.2L401.5 173.7" fill="none" stroke="#000" stroke-width="1.75" stroke-linejoin="round"/><path d="M405.3 190.1L407 186.6L408.8 177.8L409.9 184.3L411.1 192.4L411.9 198.3L412.9 193.6L414.6 184.3L415.8 177.2L417 171.4L418.7 170.8L420.5 171.4L421.6 173.7L422.8 173.1L424.6 173.7L426.3 173.1L427.5 174.3L429.2 172L430.4 171.4" fill="none" stroke="#000" stroke-width="1.75" stroke-linejoin="round"/><path d="M433.7 200L434.9 198.3L435.7 188.9L436.5 177.2L438 174.3L440.4 173.1L442.7 174.3L444.4 173.7L446.8 174.9L449.1 174L451.5 174.7L453.8 174.3L456.1 174L458.2 174.3L459.1 183.1L459.9 190.1L461.4 190.3L463.2 189.5" fill="none" stroke="#000" stroke-width="1.75" stroke-linejoin="round"/><path d="M466 177.2L467.2 177.8L468.1 179.6L468.6 192.4L469.3 199.5L470.1 191.9L470.9 181.9L471.9 172.6L473.1 171.4L475.4 172L477.7 172.6L480.1 174.3L482.4 173.7L484.7 173.1L487.1 172.6L489.4 172.6L491.2 173.1L492.9 172.6L494.7 170.8L495.9 171.4L497.6 173.7L499.4 174.3L501.1 173.1L502.1 173.1" fill="none" stroke="#000" stroke-width="1.75" stroke-linejoin="round"/><text x="99.4" y="158.20" text-anchor="end" font-size="7.8" font-weight="bold" fill="#222" stroke="#222" stroke-width="0.2">1.00</text><path d="M101.5 155.50H103" stroke="#333" stroke-width="0.6"/><text x="99.4" y="179.53" text-anchor="end" font-size="7.8" font-weight="bold" fill="#222" stroke="#222" stroke-width="0.2">0.75</text><path d="M101.5 176.83H103" stroke="#333" stroke-width="0.6"/><text x="99.4" y="200.85" text-anchor="end" font-size="7.8" font-weight="bold" fill="#222" stroke="#222" stroke-width="0.2">0.50</text><path d="M101.5 198.15H103" stroke="#333" stroke-width="0.6"/><text x="99.4" y="222.18" text-anchor="end" font-size="7.8" font-weight="bold" fill="#222" stroke="#222" stroke-width="0.2">0.25</text><path d="M101.5 219.48H103" stroke="#333" stroke-width="0.6"/><text x="99.4" y="243.50" text-anchor="end" font-size="7.8" font-weight="bold" fill="#222" stroke="#222" stroke-width="0.2">0.00</text><path d="M101.5 240.80H103" stroke="#333" stroke-width="0.6"/><text x="104" y="144.5" font-size="10" font-weight="bold" stroke="#000" stroke-width="0.25">M_type bulk</text><text transform="translate(71.19999999999999,197.6) rotate(-90) scale(1,1.08)" text-anchor="middle" font-size="10.5" font-weight="bold" stroke="#000" stroke-width="0.25">SNP-Index</text><path d="M146.75 245.7v1.5" stroke="#333" stroke-width="0.6"/><text transform="translate(148.55,255.2) rotate(-29)" text-anchor="middle" font-size="7.5" font-weight="bold" fill="#1a1a1a" stroke="#1a1a1a" stroke-width="0.3">Chr01</text><path d="M183.12 245.7v1.5" stroke="#333" stroke-width="0.6"/><text transform="translate(184.93,255.2) rotate(-29)" text-anchor="middle" font-size="7.5" font-weight="bold" fill="#1a1a1a" stroke="#1a1a1a" stroke-width="0.3">Chr02</text><path d="M220.75 245.7v1.5" stroke="#333" stroke-width="0.6"/><text transform="translate(222.55,255.2) rotate(-29)" text-anchor="middle" font-size="7.5" font-weight="bold" fill="#1a1a1a" stroke="#1a1a1a" stroke-width="0.3">Chr03</text><path d="M257.25 245.7v1.5" stroke="#333" stroke-width="0.6"/><text transform="translate(259.05,255.2) rotate(-29)" text-anchor="middle" font-size="7.5" font-weight="bold" fill="#1a1a1a" stroke="#1a1a1a" stroke-width="0.3">Chr04</text><path d="M289.75 245.7v1.5" stroke="#333" stroke-width="0.6"/><text transform="translate(291.55,255.2) rotate(-29)" text-anchor="middle" font-size="7.5" font-weight="bold" fill="#1a1a1a" stroke="#1a1a1a" stroke-width="0.3">Chr05</text><path d="M316.88 245.7v1.5" stroke="#333" stroke-width="0.6"/><text transform="translate(318.68,255.2) rotate(-29)" text-anchor="middle" font-size="7.5" font-weight="bold" fill="#1a1a1a" stroke="#1a1a1a" stroke-width="0.3">Chr06</text><path d="M344.00 245.7v1.5" stroke="#333" stroke-width="0.6"/><text transform="translate(345.80,255.2) rotate(-29)" text-anchor="middle" font-size="7.5" font-weight="bold" fill="#1a1a1a" stroke="#1a1a1a" stroke-width="0.3">Chr07</text><path d="M381.38 245.7v1.5" stroke="#333" stroke-width="0.6"/><text transform="translate(383.18,255.2) rotate(-29)" text-anchor="middle" font-size="7.5" font-weight="bold" fill="#1a1a1a" stroke="#1a1a1a" stroke-width="0.3">Chr08</text><path d="M417.75 245.7v1.5" stroke="#333" stroke-width="0.6"/><text transform="translate(419.55,255.2) rotate(-29)" text-anchor="middle" font-size="7.5" font-weight="bold" fill="#1a1a1a" stroke="#1a1a1a" stroke-width="0.3">Chr09</text><path d="M448.25 245.7v1.5" stroke="#333" stroke-width="0.6"/><text transform="translate(450.05,255.2) rotate(-29)" text-anchor="middle" font-size="7.5" font-weight="bold" fill="#1a1a1a" stroke="#1a1a1a" stroke-width="0.3">Chr10</text><path d="M483.75 245.7v1.5" stroke="#333" stroke-width="0.6"/><text transform="translate(485.55,255.2) rotate(-29)" text-anchor="middle" font-size="7.5" font-weight="bold" fill="#1a1a1a" stroke="#1a1a1a" stroke-width="0.3">Chr11</text><rect x="102.6" y="285.6" width="425.40" height="94.90" fill="#ebebeb"/><path d="M102.6 300.80H528M102.6 323.00H528M102.6 345.20H528M102.6 367.40H528M164.94 285.6V380.5M201.94 285.6V380.5M239.00 285.6V380.5M273.50 285.6V380.5M303.31 285.6V380.5M330.44 285.6V380.5M362.69 285.6V380.5M399.56 285.6V380.5M433.00 285.6V380.5M466.00 285.6V380.5M110.10 285.6V380.5M514.00 285.6V380.5M519.80 285.6V380.5" stroke="#f6f6f6" stroke-width="0.5" fill="none"/><path d="M102.6 289.70H528M102.6 311.90H528M102.6 334.10H528M102.6 356.30H528M102.6 378.50H528M146.75 285.6V380.5M183.12 285.6V380.5M220.75 285.6V380.5M257.25 285.6V380.5M289.75 285.6V380.5M316.88 285.6V380.5M344.00 285.6V380.5M381.38 285.6V380.5M417.75 285.6V380.5M448.25 285.6V380.5M483.75 285.6V380.5" stroke="#fff" stroke-width="0.9" fill="none"/><path fill="#ea66a6" d="M128.8 308.9h1.6V357.9h-1.6zM128.8 359.5h1.6V361.1h-1.6zM128.8 362.7h1.6V365.9h-1.6zM128.8 367.5h1.6V369.1h-1.6zM130.4 291.3h1.6V292.9h-1.6zM130.4 297.7h1.6V299.3h-1.6zM130.4 307.1h1.6V358.9h-1.6zM130.4 362.1h1.6V366.9h-1.6zM130.4 368.5h1.6V370.1h-1.6zM132 303.1h1.6V355.6h-1.6zM132 357.2h1.6V358.8h-1.6zM132 368.4h1.6V370h-1.6zM133.6 305.7h1.6V359.9h-1.6zM133.6 363.1h1.6V366.3h-1.6zM135.2 299.3h1.6V304.1h-1.6zM135.2 307.3h1.6V308.9h-1.6zM135.2 310.6h1.6V357.4h-1.6zM135.2 359h1.6V360.6h-1.6zM135.2 363.8h1.6V367h-1.6zM135.2 368.6h1.6V370.2h-1.6zM136.8 302.5h1.6V304.1h-1.6zM136.8 305.7h1.6V347.8h-1.6zM136.8 349.4h1.6V354.2h-1.6zM136.8 368.6h1.6V370.2h-1.6zM138.4 300.9h1.6V302.5h-1.6zM138.4 310.5h1.6V312.1h-1.6zM138.4 313.7h1.6V345.4h-1.6zM138.4 347h1.6V351.8h-1.6zM138.4 359.8h1.6V361.4h-1.6zM138.4 363h1.6V364.6h-1.6zM140 307.3h1.6V358.8h-1.6zM140 360.4h1.6V362h-1.6zM140 363.6h1.6V368.4h-1.6zM140 370h1.6V371.6h-1.6zM141.6 304.1h1.6V357.2h-1.6zM141.6 358.8h1.6V360.4h-1.6zM141.6 363.6h1.6V365.2h-1.6zM143.2 300.9h1.6V302.5h-1.6zM143.2 305.7h1.6V361.9h-1.6zM143.2 363.5h1.6V365.1h-1.6zM143.2 369.9h1.6V371.5h-1.6zM143.2 373.1h1.6V374.7h-1.6zM144.8 300.9h1.6V302.5h-1.6zM144.8 307.3h1.6V361.7h-1.6zM144.8 363.3h1.6V364.9h-1.6zM144.8 366.5h1.6V368.1h-1.6zM144.8 371.3h1.6V372.9h-1.6zM146.4 299.3h1.6V302.5h-1.6zM146.4 307.3h1.6V308.9h-1.6zM146.4 309.5h1.6V364.9h-1.6zM146.4 366.5h1.6V369.7h-1.6zM146.4 372.9h1.6V374.5h-1.6zM148 294.5h1.6V296.1h-1.6zM148 297.7h1.6V299.3h-1.6zM148 304.1h1.6V305.7h-1.6zM148 312.1h1.6V364.1h-1.6zM148 365.7h1.6V367.3h-1.6zM149.6 291.3h1.6V292.9h-1.6zM149.6 299.3h1.6V300.9h-1.6zM149.6 302.5h1.6V304.1h-1.6zM149.6 310.9h1.6V359.6h-1.6zM149.6 361.2h1.6V362.8h-1.6zM149.6 367.6h1.6V370.8h-1.6zM151.2 307.3h1.6V354.2h-1.6zM151.2 360.6h1.6V362.2h-1.6zM151.2 363.8h1.6V365.4h-1.6zM152.8 305.7h1.6V307.3h-1.6zM152.8 308.9h1.6V312.1h-1.6zM152.8 313.7h1.6V359.6h-1.6zM152.8 361.2h1.6V364.4h-1.6zM152.8 367.6h1.6V369.2h-1.6zM154.4 304.1h1.6V358.6h-1.6zM154.4 361.8h1.6V363.4h-1.6zM154.4 365h1.6V366.6h-1.6zM154.4 369.8h1.6V371.4h-1.6zM154.4 373h1.6V374.6h-1.6zM156 313.7h1.6V315.3h-1.6zM156 316.9h1.6V318.5h-1.6zM156 320.1h1.6V353.7h-1.6zM156 356.9h1.6V360.1h-1.6zM156 372.9h1.6V374.5h-1.6zM157.6 305.7h1.6V308.9h-1.6zM157.6 310.2h1.6V355.8h-1.6zM157.6 368.6h1.6V370.2h-1.6zM159.2 300.9h1.6V302.5h-1.6zM159.2 307.3h1.6V359h-1.6zM159.2 363.8h1.6V365.4h-1.6zM159.2 370.2h1.6V371.8h-1.6zM160.8 313.7h1.6V316.9h-1.6zM160.8 318.5h1.6V366.9h-1.6zM160.8 373.3h1.6V374.9h-1.6zM162.4 307.3h1.5V358.3h-1.5zM162.4 359.9h1.5V361.5h-1.5zM162.4 364.7h1.5V366.3h-1.5zM162.4 369.5h1.5V371.1h-1.5z"/><path fill="#1bbde9" d="M166 296.1h1.6V361.8h-1.6zM166 365h1.6V366.6h-1.6zM167.6 297.7h1.6V361.4h-1.6zM167.6 363h1.6V366.2h-1.6zM169.2 292.9h1.6V363.3h-1.6zM169.2 371.3h1.6V372.9h-1.6zM170.8 294.5h1.6V296.1h-1.6zM170.8 297.7h1.6V363.8h-1.6zM170.8 365.4h1.6V368.6h-1.6zM172.4 294.5h1.6V373.7h-1.6zM174 296.1h1.6V367h-1.6zM174 371.8h1.6V373.4h-1.6zM175.6 296.1h1.6V297.7h-1.6zM175.6 299.3h1.6V367.6h-1.6zM177.2 297.7h1.6V362.7h-1.6zM177.2 365.9h1.6V369.1h-1.6zM177.2 370.7h1.6V372.3h-1.6zM178.8 297.7h1.6V359.2h-1.6zM178.8 362.4h1.6V365.6h-1.6zM180.4 292.9h1.6V368.3h-1.6zM182 292.9h1.6V294.5h-1.6zM182 297.7h1.6V367h-1.6zM183.6 294.5h1.6V368.5h-1.6zM185.2 297.7h1.6V299.3h-1.6zM185.2 300.9h1.6V364.4h-1.6zM185.2 369.2h1.6V370.8h-1.6zM186.8 296.1h1.6V297.7h-1.6zM186.8 298.4h1.6V369h-1.6zM188.4 296.1h1.6V299.3h-1.6zM188.4 303.6h1.6V360.2h-1.6zM188.4 361.8h1.6V363.4h-1.6zM190 294.5h1.6V370.5h-1.6zM190 372.1h1.6V373.7h-1.6zM191.6 305.5h1.6V370.4h-1.6zM191.6 373.6h1.6V375.2h-1.6zM193.2 291.3h1.6V292.9h-1.6zM193.2 296.9h1.6V359.9h-1.6zM193.2 361.5h1.6V363.1h-1.6zM193.2 369.5h1.6V371.1h-1.6zM194.8 294.5h1.6V363.6h-1.6zM194.8 374.8h1.6V375.4h-1.6zM196.4 297.8h1.6V369.6h-1.6zM196.4 372.8h1.6V374.4h-1.6zM198 291.3h1.6V292.9h-1.6zM198 294.5h1.6V362.7h-1.6zM198 364.3h1.6V365.9h-1.6zM198 370.7h1.6V372.3h-1.6zM199.6 292.9h0.9V294.5h-0.9zM199.6 297.7h0.9V299.3h-0.9zM199.6 300.9h0.9V369.4h-0.9z"/><path fill="#25d068" d="M202.5 307.3h1.6V364.5h-1.6zM202.5 367.7h1.6V369.3h-1.6zM204.1 310.5h1.6V355.8h-1.6zM204.1 365.4h1.6V367h-1.6zM205.7 307.3h1.6V310.5h-1.6zM205.7 312.1h1.6V350.1h-1.6zM205.7 362.9h1.6V364.5h-1.6zM205.7 366.1h1.6V367.7h-1.6zM207.3 300.9h1.6V302.5h-1.6zM207.3 308.9h1.6V357.9h-1.6zM207.3 359.5h1.6V361.1h-1.6zM207.3 362.7h1.6V364.3h-1.6zM208.9 308.9h1.6V312.1h-1.6zM208.9 312.8h1.6V363.9h-1.6zM210.5 302.5h1.6V305.7h-1.6zM210.5 310.5h1.6V312.1h-1.6zM210.5 314.9h1.6V360.6h-1.6zM212.1 308.9h1.6V310.5h-1.6zM212.1 312.1h1.6V352.2h-1.6zM212.1 357h1.6V358.6h-1.6zM213.7 296.1h1.6V297.7h-1.6zM213.7 299.3h1.6V302.5h-1.6zM213.7 304.1h1.6V355.8h-1.6zM215.3 289.7h1.6V291.3h-1.6zM215.3 302.8h1.6V357.2h-1.6zM215.3 358.8h1.6V362h-1.6zM215.3 363.6h1.6V365.2h-1.6zM216.9 297.7h1.6V299.3h-1.6zM216.9 308.9h1.6V310.5h-1.6zM216.9 311.8h1.6V357h-1.6zM216.9 358.6h1.6V360.2h-1.6zM216.9 369.8h1.6V371.4h-1.6zM218.5 305.7h1.6V307.3h-1.6zM218.5 312.1h1.6V359.6h-1.6zM218.5 366h1.6V367.6h-1.6zM220.1 302.5h1.6V353.5h-1.6zM220.1 355.1h1.6V356.7h-1.6zM220.1 366.3h1.6V367.9h-1.6zM220.1 371.1h1.6V374.1h-1.6zM221.7 300.9h1.4V302.5h-1.4zM221.7 305.7h1.4V308.9h-1.4zM221.7 310.1h1.4V365.9h-1.4zM221.7 367.5h1.4V369.1h-1.4zM223.1 294.5h1.6V369.6h-1.6zM223.1 371.2h1.6V372.8h-1.6zM224.7 297.7h1.6V299.3h-1.6zM224.7 300.9h1.6V369.3h-1.6zM224.7 370.9h1.6V372.5h-1.6zM226.3 299.3h1.6V300.9h-1.6zM226.3 302.1h1.6V375.1h-1.6zM227.9 294.5h1.6V369.4h-1.6zM229.5 300.9h1.6V304.1h-1.6zM229.5 305.6h1.6V370.6h-1.6zM229.5 372.2h1.6V373.8h-1.6zM231.1 290.1h1.6V372.1h-1.6zM232.7 299.3h1.6V300.9h-1.6zM232.7 302.1h1.6V375h-1.6zM234.3 296.1h1.6V371.6h-1.6zM235.9 294.7h1.6V369.9h-1.6zM237.5 292.9h1.5V294.5h-1.5zM237.5 297.1h1.5V372.6h-1.5z"/><path fill="#f3920f" d="M240.8 296h1.6V363.4h-1.6zM240.8 365h1.6V366.6h-1.6zM242.3 291.3h1.6V292.9h-1.6zM242.3 294.5h1.6V296.1h-1.6zM242.3 297.7h1.6V361.8h-1.6zM242.3 371.4h1.6V373h-1.6zM243.9 300.9h1.6V371.2h-1.6zM245.5 296.1h1.6V372.2h-1.6zM247.1 296.1h1.6V371.9h-1.6zM248.7 289.7h1.6V373.4h-1.6zM250.3 296.1h1.6V297.7h-1.6zM250.3 299.3h1.6V369.4h-1.6zM251.9 296.1h1.6V299.3h-1.6zM251.9 300.3h1.6V363.7h-1.6zM251.9 365.3h1.6V366.9h-1.6zM253.5 304.1h1.6V366.2h-1.6zM253.5 367.8h1.6V369.4h-1.6zM255.1 299.3h1.6V371.6h-1.6zM256.7 294.5h1.6V296.1h-1.6zM256.7 300.5h1.6V370.5h-1.6zM258.3 296.1h1.6V375.3h-1.6zM259.9 296.1h1.6V371.6h-1.6zM261.6 292.9h1.6V367.7h-1.6zM261.6 369.3h1.6V370.9h-1.6zM263.2 294.5h1.6V296.1h-1.6zM263.2 297.7h1.6V375h-1.6zM264.8 296.1h1.6V297.7h-1.6zM264.8 300.7h1.6V368.3h-1.6zM264.8 369.9h1.6V371.5h-1.6zM266.4 292.4h1.6V372.1h-1.6zM268 295.3h1.6V365.1h-1.6zM268 368.3h1.6V369.9h-1.6zM269.6 294.5h1.6V296.1h-1.6zM269.6 297.7h1.6V365.3h-1.6zM269.6 366.9h1.6V368.5h-1.6zM271.2 296.1h1.6V299.3h-1.6zM271.2 300.9h1.6V361.3h-1.6zM271.2 362.9h1.6V364.5h-1.6zM272.8 294.5h1V373.7h-1z"/><path fill="#ea66a6" d="M275.5 301.6h1.6V362.8h-1.6zM275.5 367.6h1.6V369.2h-1.6zM275.5 372.4h1.6V374h-1.6zM277.1 294.5h1.6V296.1h-1.6zM277.1 304.1h1.6V365.3h-1.6zM277.1 366.9h1.6V368.5h-1.6zM278.7 302.5h1.6V360.2h-1.6zM278.7 361.8h1.6V363.4h-1.6zM278.7 369.8h1.6V371.4h-1.6zM280.3 294.9h1.6V365h-1.6zM280.3 366.6h1.6V371.4h-1.6zM281.9 302.5h1.6V304.1h-1.6zM281.9 305.7h1.6V365.4h-1.6zM281.9 368.6h1.6V370.2h-1.6zM283.5 292.9h1.6V294.5h-1.6zM283.5 297.7h1.6V299.3h-1.6zM283.5 304.1h1.6V363.9h-1.6zM285.1 292.9h1.6V296.1h-1.6zM285.1 299.3h1.6V300.9h-1.6zM285.1 304.1h1.6V305.7h-1.6zM285.1 306.6h1.6V367.5h-1.6zM286.7 300.9h1.6V302.5h-1.6zM286.7 304.1h1.6V364.3h-1.6zM286.7 367.5h1.6V369.1h-1.6zM288.3 300.9h1.6V302.5h-1.6zM288.3 307.3h1.6V360.2h-1.6zM288.3 365h1.6V366.6h-1.6zM289.9 297.7h1.6V299.3h-1.6zM289.9 304.1h1.6V307.3h-1.6zM289.9 307.3h1.6V364.4h-1.6zM291.5 297.7h1.6V299.3h-1.6zM291.5 302.5h1.6V304.1h-1.6zM291.5 308.9h1.6V371.6h-1.6zM291.5 373.2h1.6V374.1h-1.6zM293.1 296.1h1.6V359.8h-1.6zM293.1 371h1.6V372.6h-1.6zM294.7 300.9h1.6V361.5h-1.6zM296.3 299.3h1.6V302.5h-1.6zM296.3 305.7h1.6V367.7h-1.6zM297.9 304.1h1.6V310.5h-1.6zM297.9 312.6h1.6V360.7h-1.6zM297.9 367.1h1.6V368.7h-1.6zM299.5 299.3h1.6V300.9h-1.6zM299.5 302.5h1.6V359.4h-1.6zM299.5 369h1.6V370.6h-1.6zM301.1 291.3h1.6V292.9h-1.6zM301.1 299.3h1.6V300.9h-1.6zM301.1 302.5h1.6V369.8h-1.6zM302.7 302.5h1.3V367.7h-1.3z"/><path fill="#1bbde9" d="M305.8 289.7h1.6V353h-1.6zM305.8 354.6h1.6V359.4h-1.6zM305.8 365.8h1.6V367.4h-1.6zM305.8 372.2h1.6V373.8h-1.6zM307.4 289.7h1.6V366.7h-1.6zM309 289.7h1.6V354.2h-1.6zM310.6 289.7h1.6V362h-1.6zM312.2 289.7h1.6V351.5h-1.6zM312.2 353.1h1.6V354.7h-1.6zM312.2 359.5h1.6V361.1h-1.6zM313.8 289.7h1.6V355.2h-1.6zM313.8 364.8h1.6V366.4h-1.6zM313.8 369.6h1.6V371.2h-1.6zM315.4 289.7h1.6V351.1h-1.6zM315.4 352.7h1.6V354.3h-1.6zM315.4 363.9h1.6V365.5h-1.6zM315.4 367.1h1.6V368.7h-1.6zM315.4 371.9h1.6V373.5h-1.6zM317 289.7h0.5V354.3h-0.5zM317 359.1h0.5V362.3h-0.5zM317 363.9h0.5V365.5h-0.5zM317 370.3h0.5V371.9h-0.5zM317.5 328.1h1.1V331.3h-1.1zM317.5 332.9h1.1V334.1h-1.1zM317.5 343.7h1.1V345.3h-1.1zM318.6 289.7h1.6V363.7h-1.6zM318.6 365.3h1.6V366.9h-1.6zM320.2 289.7h1.6V367.9h-1.6zM321.8 289.7h1.6V361.8h-1.6zM323.4 289.7h0.1V362.5h-0.1zM323.4 368.9h0.1V370.5h-0.1zM323.5 316.9h0.8V318.5h-0.8zM323.5 321.7h0.8V323.3h-0.8zM323.5 326.5h0.8V328.1h-0.8zM323.5 329.7h0.8V331.3h-0.8zM323.5 332.9h0.8V338.9h-0.8zM323.5 351.7h0.8V353.3h-0.8zM324.3 289.7h1.6V362.2h-1.6zM324.3 363.8h1.6V365.4h-1.6zM325.9 289.7h1.6V369.1h-1.6z"/><path fill="#25d068" d="M330 296.1h1.6V297.7h-1.6zM330 302.5h1.6V304.1h-1.6zM330 305.4h1.6V347.7h-1.6zM330 349.3h1.6V352.5h-1.6zM331.6 296.1h1.6V297.7h-1.6zM331.6 303.5h1.6V350.9h-1.6zM333.2 299.3h1.6V300.9h-1.6zM333.2 304.1h1.6V352.9h-1.6zM333.2 357.7h1.6V359.3h-1.6zM333.2 362.5h1.6V364.1h-1.6zM334.8 299.3h1.6V300.9h-1.6zM334.8 308.9h1.6V310.5h-1.6zM334.8 311.5h1.6V353.4h-1.6zM334.8 356.6h1.6V361.4h-1.6zM334.8 364.6h1.6V367.8h-1.6zM336.4 294.5h1.6V296.1h-1.6zM336.4 306.5h1.6V351.9h-1.6zM336.4 353.5h1.6V355.1h-1.6zM336.4 356.7h1.6V359.9h-1.6zM338 292.9h1.6V296.1h-1.6zM338 300.9h1.6V302.5h-1.6zM338 304.1h1.6V305.7h-1.6zM338 307.3h1.6V345.6h-1.6zM338 347.2h1.6V348.8h-1.6zM338 350.4h1.6V356.8h-1.6zM338 363.2h1.6V364.8h-1.6zM339.6 305.7h1.3V346.7h-1.3zM339.6 348.3h1.3V349.9h-1.3zM339.6 353.1h1.3V354.7h-1.3zM339.6 356.3h1.3V357.9h-1.3zM340.9 289.7h1.6V358.5h-1.6zM340.9 360.1h1.6V361.7h-1.6zM342.5 289.7h0.5V360.1h-0.5zM342.5 361.7h0.5V363.3h-0.5zM342.5 368.1h0.5V369.7h-0.5zM343 294.5h1.6V296.1h-1.6zM343 305.7h1.6V354.2h-1.6zM343 355.8h1.6V357.4h-1.6zM343 371.8h1.6V373.4h-1.6zM344.6 299.1h1.6V357.2h-1.6zM344.6 358.8h1.6V360.4h-1.6zM344.6 368.4h1.6V370h-1.6zM346.2 294.5h1.6V296.1h-1.6zM346.2 302.5h1.6V354h-1.6zM346.2 355.6h1.6V357.2h-1.6zM346.2 358.8h1.6V363.6h-1.6zM346.2 366.8h1.6V368.4h-1.6zM347.8 304.1h1.6V305.7h-1.6zM347.8 312.1h1.6V355.8h-1.6zM347.8 357.4h1.6V359h-1.6zM349.4 296.1h1.6V297.7h-1.6zM349.4 304.1h1.6V353.1h-1.6zM349.4 356.3h1.6V361.1h-1.6zM349.4 362.7h1.6V364.3h-1.6zM349.4 365.9h1.6V369.1h-1.6zM351 306.8h1V351.1h-1zM352 299.3h1.6V300.9h-1.6zM352 304.1h1.6V374.4h-1.6zM353.6 297.7h1.6V377.9h-1.6zM355.2 294.5h0.3V378.5h-0.3zM355.5 304.1h1.6V343h-1.6zM355.5 344.6h1.6V346.2h-1.6zM355.5 347.8h1.6V352.6h-1.6zM355.5 360.6h1.6V362.2h-1.6zM357.1 304.1h0.9V305.7h-0.9zM357.1 307.3h0.9V359.7h-0.9zM357.1 361.3h0.9V362.9h-0.9z"/><path fill="#f3920f" d="M360 294.5h1.6V370h-1.6zM361.6 299.3h1.6V363.4h-1.6zM361.6 371.4h1.6V374.6h-1.6zM363.2 292.9h1.6V371.4h-1.6zM364.8 289.7h1.6V363.3h-1.6zM364.8 364.9h1.6V366.5h-1.6zM364.8 369.7h1.6V372.9h-1.6zM366.4 289.7h1.6V367.1h-1.6zM366.4 370.3h1.6V371.9h-1.6zM368 292.9h1.6V361.3h-1.6zM368 362.9h1.6V364.5h-1.6zM369.6 290.8h1.6V369h-1.6zM371.2 294.5h1.6V365.9h-1.6zM372.8 292.9h1.6V294.5h-1.6zM372.8 297.7h1.6V364.4h-1.6zM372.8 366h1.6V367.6h-1.6zM374.4 294.6h1.6V366.2h-1.6zM376 294.5h1.6V364.3h-1.6zM376 369.1h1.6V370.7h-1.6zM377.6 292.9h1.6V370.3h-1.6zM379.2 292h1.6V372.9h-1.6zM380.8 291.3h1.6V296.1h-1.6zM380.8 297.7h1.6V365.9h-1.6zM382.4 293.5h1.6V372h-1.6zM384 294.6h1.6V366.2h-1.6zM385.6 296.1h1.6V299.3h-1.6zM385.6 300.9h1.6V361.7h-1.6zM385.6 363.3h1.6V364.9h-1.6zM387.2 289.7h1.6V373.1h-1.6zM388.8 294.5h1.6V368.3h-1.6zM390.4 294.5h1.6V365.7h-1.6zM390.4 367.3h1.6V370.5h-1.6zM390.4 372.1h1.6V373.7h-1.6zM392 292.9h1.6V368.5h-1.6zM393.6 289.7h1.6V291.3h-1.6zM393.6 292.9h1.6V366.6h-1.6zM395.2 291.3h1.6V370.3h-1.6zM395.2 373.5h1.6V375.1h-1.6zM396.8 296.1h1.6V368h-1.6zM396.8 371.2h1.6V372.8h-1.6zM398.4 291.3h1.6V374.4h-1.6zM400 291.1h1.6V371.6h-1.6zM401.6 296.1h1.1V372.3h-1.1zM401.6 373.9h1.1V375.4h-1.1z"/><path fill="#ea66a6" d="M404.5 304.1h1.6V307.3h-1.6zM404.5 310.5h1.6V312.1h-1.6zM404.5 312.6h1.6V368.6h-1.6zM404.5 370.2h1.6V371.8h-1.6zM406.1 297.7h1.6V299.3h-1.6zM406.1 301.9h1.6V361.2h-1.6zM406.1 362.8h1.6V364.4h-1.6zM406.1 374h1.6V374.1h-1.6zM407.7 291.3h1.6V358.9h-1.6zM407.7 360.5h1.6V362.1h-1.6zM409.3 304.1h1.6V352h-1.6zM409.3 355.2h1.6V356.8h-1.6zM409.3 361.6h1.6V363.2h-1.6zM410.9 299.3h1.6V300.9h-1.6zM410.9 301.8h1.6V368.6h-1.6zM412.5 292.9h1.6V294.5h-1.6zM412.5 299.1h1.6V365.4h-1.6zM414.1 291.3h1.6V292.9h-1.6zM414.1 300.9h1.6V304.1h-1.6zM414.1 305.7h1.6V307.3h-1.6zM414.1 308.3h1.6V363.3h-1.6zM414.1 372.9h1.6V374.1h-1.6zM415.7 296.1h0.1V365.2h-0.1zM415.8 311.7h1.6V354.7h-1.6zM415.8 356.3h1.6V357.9h-1.6zM415.8 365.9h1.6V367.5h-1.6zM417.4 308.5h1.6V352.5h-1.6zM417.4 354.1h1.6V358.9h-1.6zM417.4 360.5h1.6V362.1h-1.6zM419 310.1h1.6V367.4h-1.6zM419 369h1.6V370.6h-1.6zM420.6 306.9h1.6V308.5h-1.6zM420.6 311.3h1.6V356.6h-1.6zM420.6 361.4h1.6V366.2h-1.6zM422.2 311.7h1.6V351h-1.6zM422.2 355.8h1.6V359h-1.6zM422.2 363.8h1.6V365.4h-1.6zM423.8 303.7h1.6V305.3h-1.6zM423.8 306.9h1.6V356.3h-1.6zM423.8 367.5h1.6V369.1h-1.6zM425.4 302.1h1.6V355.9h-1.6zM425.4 359.1h1.6V360.7h-1.6zM425.4 363.9h1.6V365.5h-1.6zM427 311.7h1.6V358.3h-1.6zM428.6 302.1h1.6V303.7h-1.6zM428.6 308.5h1.6V354.7h-1.6zM428.6 361.1h1.6V362.7h-1.6zM428.6 365.9h1.6V367.5h-1.6zM430.2 295.7h0.8V297.3h-0.8zM430.2 306.9h0.8V347.5h-0.8zM430.2 349.1h0.8V350.7h-0.8zM430.2 352.3h0.8V353.9h-0.8zM430.2 355.5h0.8V357.1h-0.8zM430.2 368.3h0.8V369.9h-0.8z"/><path fill="#1bbde9" d="M433 299.3h1.6V362.3h-1.6zM434.6 294.8h1.6V363.4h-1.6zM436.2 291.3h1.2V292.9h-1.2zM436.2 299.3h1.2V300.9h-1.2zM436.2 301.2h1.2V367.7h-1.2zM436.2 369.3h1.2V370.9h-1.2zM437.4 305.7h1.6V354.2h-1.6zM437.4 355.8h1.6V357.4h-1.6zM439 302.5h1.6V304.1h-1.6zM439 305.7h1.6V360.3h-1.6zM440.6 300.9h1.6V302.5h-1.6zM440.6 304.1h1.6V305.7h-1.6zM440.6 307.3h1.6V363.9h-1.6zM440.6 365.5h1.6V367.1h-1.6zM442.2 308.9h1.6V363.6h-1.6zM443.8 307.3h1.6V308.9h-1.6zM443.8 309.2h1.6V361.8h-1.6zM443.8 369.8h1.6V371.4h-1.6zM445.4 302.5h1.6V304.1h-1.6zM445.4 305.7h1.6V352.6h-1.6zM445.4 354.2h1.6V355.8h-1.6zM447 299.3h1.6V361h-1.6zM448.6 308.9h1.6V310.5h-1.6zM448.6 312.1h1.6V357.7h-1.6zM448.6 359.3h1.6V362.5h-1.6zM450.2 299.3h1.6V300.9h-1.6zM450.2 308.9h1.6V356.8h-1.6zM451.8 307.3h1.6V308.9h-1.6zM451.8 311.3h1.6V356.2h-1.6zM451.8 357.8h1.6V359.4h-1.6zM451.8 364.2h1.6V365.8h-1.6zM453.4 311.2h1.6V358.9h-1.6zM453.4 365.3h1.6V366.9h-1.6zM455 300.9h1.6V302.5h-1.6zM455 304.1h1.6V356h-1.6zM455 357.6h1.6V359.2h-1.6zM455 362.4h1.6V364h-1.6zM456.6 305.7h1.6V354.5h-1.6zM456.6 359.3h1.6V360.9h-1.6zM456.6 362.5h1.6V364.1h-1.6zM456.6 365.7h1.6V367.3h-1.6zM458.2 297.7h0.3V299.3h-0.3zM458.2 305.1h0.3V354.7h-0.3zM458.2 356.3h0.3V357.9h-0.3zM458.2 367.5h0.3V369.1h-0.3zM458.5 289.7h1.6V369h-1.6zM460.1 289.7h1.6V368.3h-1.6zM461.7 289.7h1.6V371.5h-1.6zM463.3 289.7h0.2V375.3h-0.2z"/><path fill="#25d068" d="M465.5 289.7h1.6V372.3h-1.6zM467.1 289.7h1.6V370.3h-1.6zM467.1 371.9h1.6V373.5h-1.6zM468.7 289.7h1.6V369.8h-1.6zM470.3 289.7h1V375.6h-1zM471.3 300.9h1.6V302.5h-1.6zM471.3 304.1h1.6V305.7h-1.6zM471.3 308.9h1.6V357.2h-1.6zM471.3 358.8h1.6V362h-1.6zM471.3 368.4h1.6V370h-1.6zM472.9 300.9h1.6V302.5h-1.6zM472.9 304.1h1.6V359.3h-1.6zM472.9 360.9h1.6V364.1h-1.6zM472.9 367.3h1.6V368.9h-1.6zM474.5 294.5h1.6V296.1h-1.6zM474.5 300.9h1.6V359.2h-1.6zM474.5 360.8h1.6V362.4h-1.6zM474.5 364h1.6V365.6h-1.6zM476.1 299.3h1.6V359.4h-1.6zM477.7 299.3h1.6V300.9h-1.6zM477.7 304.1h1.6V307.3h-1.6zM477.7 308.9h1.6V349.3h-1.6zM477.7 350.9h1.6V352.5h-1.6zM477.7 355.7h1.6V357.3h-1.6zM477.7 358.9h1.6V362.1h-1.6zM477.7 363.7h1.6V365.3h-1.6zM479.3 299.3h1.6V300.9h-1.6zM479.3 304.1h1.6V354.1h-1.6zM479.3 357.3h1.6V358.9h-1.6zM479.3 360.5h1.6V362.1h-1.6zM479.3 366.9h1.6V370.1h-1.6zM480.9 294.5h1.6V296.1h-1.6zM480.9 297.7h1.6V356.9h-1.6zM480.9 358.5h1.6V360.1h-1.6zM482.5 299.6h1.6V359h-1.6zM482.5 360.6h1.6V365.4h-1.6zM484.1 292.9h1.6V294.5h-1.6zM484.1 300.9h1.6V302.5h-1.6zM484.1 307.3h1.6V308.9h-1.6zM484.1 308.9h1.6V360.2h-1.6zM484.1 361.8h1.6V365h-1.6zM484.1 368.2h1.6V369.8h-1.6zM485.7 300.9h1.6V302.5h-1.6zM485.7 307.3h1.6V358.1h-1.6zM487.3 296.1h1.6V356.7h-1.6zM487.3 358.3h1.6V359.9h-1.6zM487.3 361.5h1.6V363.1h-1.6zM487.3 364.7h1.6V366.3h-1.6zM488.9 305.7h1.6V308.9h-1.6zM488.9 310.3h1.6V351.9h-1.6zM488.9 353.5h1.6V355.1h-1.6zM488.9 356.7h1.6V358.3h-1.6zM490.5 297.7h1.6V299.3h-1.6zM490.5 302.5h1.6V358.1h-1.6zM490.5 362.9h1.6V364.5h-1.6zM490.5 366.1h1.6V367.7h-1.6zM492.1 302.5h1.6V304.1h-1.6zM492.1 306h1.6V356.6h-1.6zM492.1 361.4h1.6V364.6h-1.6zM493.7 297.7h1.6V299.3h-1.6zM493.7 307.3h1.6V361.5h-1.6zM493.7 363.1h1.6V366.3h-1.6zM495.3 300.9h1.6V304.1h-1.6zM495.3 305.7h1.6V360.3h-1.6zM496.9 296.1h1.6V297.7h-1.6zM496.9 302.5h1.6V304.1h-1.6zM496.9 304.5h1.6V348.9h-1.6zM496.9 350.5h1.6V352.1h-1.6zM496.9 356.9h1.6V358.5h-1.6zM496.9 364.9h1.6V366.5h-1.6zM498.5 292.9h1.6V294.5h-1.6zM498.5 297.7h1.6V348.6h-1.6zM498.5 350.2h1.6V355h-1.6zM498.5 359.8h1.6V361.4h-1.6zM500.1 304.1h1.6V305.7h-1.6zM500.1 307.3h1.6V362.8h-1.6zM501.7 302.5h0.3V362.8h-0.3z"/><path d="M102.6 334.10H528" stroke="#8a8a8a" stroke-width="0.9" stroke-dasharray="2.6,2.6"/><path d="M102.6 308.61H528" stroke="#f7221a" stroke-width="1.5" stroke-dasharray="3.6,3.3"/><path d="M129.5 332.5L131.3 332L133 333.1L134.8 334.5L136.5 333.4L138.9 332.2L141.2 331.7L143.5 332.5L145.3 333.1L147.6 331.7L149.4 332.2L151.1 333.4L153.5 333.1L155.8 332.2L157.3 331L158.7 333.1L160.5 334.1L161.7 332.5L163.2 332.9" fill="none" stroke="#000" stroke-width="1.75" stroke-linejoin="round"/><path d="M166.4 333.7L168.1 332.9L170.4 332.2L172.8 331.7L175.1 331.4L177.5 331.7L179.8 332.2L182.1 333.1L183.9 333.4L185.6 331.7L186.8 330.2L188.6 329.4L190.3 329.6L192.1 330.8L192.7 333.1L193.3 334.3L194.4 334.1L195 330.8L196.2 329L197.9 329.8L199.5 330.8" fill="none" stroke="#000" stroke-width="1.75" stroke-linejoin="round"/><path d="M202.7 334.5L204.4 334.9L206.2 332L208.5 331L210.9 332.2L213.2 332.9L215.5 332.2L217.9 332.5L219.6 332L221.4 330.5L223.1 333.1L225.5 334.9L227.8 335.5L229.6 334.3L231.3 332L233.1 331.4L234.8 332.2L236.6 332.9L238.4 332.9" fill="none" stroke="#000" stroke-width="1.75" stroke-linejoin="round"/><path d="M241 333.7L243.6 333.4L246 333.1L248.3 333.7L250 334.3L251.8 336L253.6 334.9L254.7 333.7L256.5 335.5L258.8 336L261.2 335.5L262.3 333.1L263.5 331.7L265.3 331.7L266.4 336.6L268.2 337.2L270.5 337.2L271.9 335.5L272.6 332.9" fill="none" stroke="#000" stroke-width="1.75" stroke-linejoin="round"/><path d="M276.1 333.7L279 333.4L281.4 332.9L283.7 332.5L286 332.2L288.4 332.5L290.7 333.1L293.1 333.7L295.4 332.9L297.7 333.1L300.1 333.7L301.8 334.5L303.3 335.2" fill="none" stroke="#000" stroke-width="1.75" stroke-linejoin="round"/><path d="M306.5 311.5L307.7 309.1L309.4 308.3L311.8 308.6L314.1 308.8L317 308.8L317.8 313.2L318.2 333.1L318.5 317.3L320 317.3L321.7 319.1L322.5 321.4L323.2 332L323.5 326.1L324.6 327.9L325.8 330.8L326.7 333.1" fill="none" stroke="#000" stroke-width="1.75" stroke-linejoin="round"/><path d="M330.3 334.5L332.7 332.5L335 331.4L337.4 332L339.7 332L340.6 323.8L341.5 322.6L343.2 322L343.4 332L345.5 332L347.9 332.9L350.2 333.7L352.6 334.3L354.9 334.1L357.2 334.3" fill="none" stroke="#000" stroke-width="1.75" stroke-linejoin="round"/><path d="M360.5 334.1L362.5 334.5L364.3 336.4L366 336.9L368.4 335.5L370.7 334.9L373 335.2L374.8 334.5L377.1 334.3L379.5 334.9L381.8 334.9L384.1 334.5L386.5 334.3L388.8 334.9L391.2 334.9L393.5 334.3L395.3 333.7L397 332.9L398.2 333.7L399.9 334.5L401.7 334.3" fill="none" stroke="#000" stroke-width="1.75" stroke-linejoin="round"/><path d="M404.9 331.4L407 331.7L408.8 330.5L411.1 330.2L412.9 331L414.6 330.8L415.8 333.1L417.5 334.1L419.3 333.1L421.6 332.2L423.4 331.7L424.6 332.2L426.3 330.5L428.1 331L429 333.7L430.6 334.3" fill="none" stroke="#000" stroke-width="1.75" stroke-linejoin="round"/><path d="M433.7 331.4L435.1 330.8L436.8 330.2L438 329.8L439.2 331.4L440.9 331.7L443.3 332.2L445.6 332.5L448 332L450.3 332.2L452.6 331.7L455 331.4L456.7 331L457.9 332.9L459.1 334.1L460.8 334.3L463.2 334.5" fill="none" stroke="#000" stroke-width="1.75" stroke-linejoin="round"/><path d="M465.8 333.7L467.8 334.1L469.5 334.9L470.9 335.5L472.1 333.1L474.2 332.2L476.6 332.5L478.9 333.1L481.2 333.7L483.6 333.1L485.9 332.2L487.7 331.7L489.4 332.2L491.8 332.5L494.1 332.9L496.4 333.4L498.8 332.9L500.5 333.1L502.1 333.7" fill="none" stroke="#000" stroke-width="1.75" stroke-linejoin="round"/><text x="100" y="292.40" text-anchor="end" font-size="7.8" font-weight="bold" fill="#222" stroke="#222" stroke-width="0.2">1.0</text><path d="M101.1 289.70H102.6" stroke="#333" stroke-width="0.6"/><text x="100" y="314.60" text-anchor="end" font-size="7.8" font-weight="bold" fill="#222" stroke="#222" stroke-width="0.2">0.5</text><path d="M101.1 311.90H102.6" stroke="#333" stroke-width="0.6"/><text x="100" y="336.80" text-anchor="end" font-size="7.8" font-weight="bold" fill="#222" stroke="#222" stroke-width="0.2">0.0</text><path d="M101.1 334.10H102.6" stroke="#333" stroke-width="0.6"/><text x="100" y="359.00" text-anchor="end" font-size="7.8" font-weight="bold" fill="#222" stroke="#222" stroke-width="0.2">-0.5</text><path d="M101.1 356.30H102.6" stroke="#333" stroke-width="0.6"/><text x="100" y="381.20" text-anchor="end" font-size="7.8" font-weight="bold" fill="#222" stroke="#222" stroke-width="0.2">-1.0</text><path d="M101.1 378.50H102.6" stroke="#333" stroke-width="0.6"/><text x="107.4" y="279.8" font-size="10" font-weight="bold" stroke="#000" stroke-width="0.25">W_type-M_type bulk</text><text transform="translate(72.39999999999999,352.6) rotate(-90) scale(1,1.08)" font-size="10.5" font-weight="bold" stroke="#000" stroke-width="0.25">SNP-index</text><path d="M65.2 357.1L72.9 352.9V361.3Z" fill="none" stroke="#3a3a3a" stroke-width="0.9" stroke-linejoin="miter"/><path d="M146.75 380.5v1.5" stroke="#333" stroke-width="0.6"/><text transform="translate(148.55,390.7) rotate(-29)" text-anchor="middle" font-size="7.5" font-weight="bold" fill="#1a1a1a" stroke="#1a1a1a" stroke-width="0.3">Chr01</text><path d="M183.12 380.5v1.5" stroke="#333" stroke-width="0.6"/><text transform="translate(184.93,390.7) rotate(-29)" text-anchor="middle" font-size="7.5" font-weight="bold" fill="#1a1a1a" stroke="#1a1a1a" stroke-width="0.3">Chr02</text><path d="M220.75 380.5v1.5" stroke="#333" stroke-width="0.6"/><text transform="translate(222.55,390.7) rotate(-29)" text-anchor="middle" font-size="7.5" font-weight="bold" fill="#1a1a1a" stroke="#1a1a1a" stroke-width="0.3">Chr03</text><path d="M257.25 380.5v1.5" stroke="#333" stroke-width="0.6"/><text transform="translate(259.05,390.7) rotate(-29)" text-anchor="middle" font-size="7.5" font-weight="bold" fill="#1a1a1a" stroke="#1a1a1a" stroke-width="0.3">Chr04</text><path d="M289.75 380.5v1.5" stroke="#333" stroke-width="0.6"/><text transform="translate(291.55,390.7) rotate(-29)" text-anchor="middle" font-size="7.5" font-weight="bold" fill="#1a1a1a" stroke="#1a1a1a" stroke-width="0.3">Chr05</text><path d="M316.88 380.5v1.5" stroke="#333" stroke-width="0.6"/><text transform="translate(318.68,390.7) rotate(-29)" text-anchor="middle" font-size="7.5" font-weight="bold" fill="#1a1a1a" stroke="#1a1a1a" stroke-width="0.3">Chr06</text><path d="M344.00 380.5v1.5" stroke="#333" stroke-width="0.6"/><text transform="translate(345.80,390.7) rotate(-29)" text-anchor="middle" font-size="7.5" font-weight="bold" fill="#1a1a1a" stroke="#1a1a1a" stroke-width="0.3">Chr07</text><path d="M381.38 380.5v1.5" stroke="#333" stroke-width="0.6"/><text transform="translate(383.18,390.7) rotate(-29)" text-anchor="middle" font-size="7.5" font-weight="bold" fill="#1a1a1a" stroke="#1a1a1a" stroke-width="0.3">Chr08</text><path d="M417.75 380.5v1.5" stroke="#333" stroke-width="0.6"/><text transform="translate(419.55,390.7) rotate(-29)" text-anchor="middle" font-size="7.5" font-weight="bold" fill="#1a1a1a" stroke="#1a1a1a" stroke-width="0.3">Chr09</text><path d="M448.25 380.5v1.5" stroke="#333" stroke-width="0.6"/><text transform="translate(450.05,390.7) rotate(-29)" text-anchor="middle" font-size="7.5" font-weight="bold" fill="#1a1a1a" stroke="#1a1a1a" stroke-width="0.3">Chr10</text><path d="M483.75 380.5v1.5" stroke="#333" stroke-width="0.6"/><text transform="translate(485.55,390.7) rotate(-29)" text-anchor="middle" font-size="7.5" font-weight="bold" fill="#1a1a1a" stroke="#1a1a1a" stroke-width="0.3">Chr11</text><text transform="translate(0.80,452.30)" font-size="27.6" font-weight="bold" fill="#000" stroke="#000" stroke-width="0.3">b</text><path d="M101.25 475.3H661.6" stroke="#000" stroke-width="2.8"/><text transform="translate(119.05,472.30) rotate(90) scale(1,1.08)" text-anchor="end" font-size="17.5" font-weight="bold" fill="#000" stroke="#000" stroke-width="0.35">31.2Mb</text><text transform="translate(177.30,472.30) rotate(90) scale(1,1.08)" text-anchor="end" font-size="17.5" font-weight="bold" fill="#000" stroke="#000" stroke-width="0.35">28.1Mb</text><text transform="translate(235.80,472.30) rotate(90) scale(1,1.08)" text-anchor="end" font-size="17.5" font-weight="bold" fill="#000" stroke="#000" stroke-width="0.35">25.0Mb</text><text transform="translate(283.80,472.30) rotate(90) scale(1,1.08)" text-anchor="end" font-size="17.5" font-weight="bold" fill="#000" stroke="#000" stroke-width="0.35">21.9Mb</text><text transform="translate(332.80,472.30) rotate(90) scale(1,1.08)" text-anchor="end" font-size="17.5" font-weight="bold" fill="#000" stroke="#000" stroke-width="0.35">18.7Mb</text><text transform="translate(380.80,472.30) rotate(90) scale(1,1.08)" text-anchor="end" font-size="17.5" font-weight="bold" fill="#000" stroke="#000" stroke-width="0.35">15.6Mb</text><text transform="translate(439.80,472.30) rotate(90) scale(1,1.08)" text-anchor="end" font-size="17.5" font-weight="bold" fill="#000" stroke="#000" stroke-width="0.35">12.5Mb</text><text transform="translate(487.80,472.30) rotate(90) scale(1,1.08)" text-anchor="end" font-size="17.5" font-weight="bold" fill="#000" stroke="#000" stroke-width="0.35">9.4Mb</text><text transform="translate(536.80,472.30) rotate(90) scale(1,1.08)" text-anchor="end" font-size="17.5" font-weight="bold" fill="#000" stroke="#000" stroke-width="0.35">6.2Mb</text><text transform="translate(585.30,472.30) rotate(90) scale(1,1.08)" text-anchor="end" font-size="17.5" font-weight="bold" fill="#000" stroke="#000" stroke-width="0.35">3.1Mb</text><text transform="translate(633.80,472.30) rotate(90) scale(1,1.08)" text-anchor="end" font-size="17.5" font-weight="bold" fill="#000" stroke="#000" stroke-width="0.35">0.0Mb</text><text transform="translate(38.60,516.80) scale(1,1.07)" font-size="17.5" font-weight="bold" fill="#000" stroke="#000" stroke-width="0.35">Chr 06</text><rect x="105.5" y="502.5" width="554" height="15" fill="none" stroke="#000" stroke-width="1"/><rect x="507.6" y="502.5" width="28.4" height="15" fill="#000"/><path d="M505 518L108.5 561.5" stroke="#222" stroke-width="0.9" stroke-dasharray="5,3.5" fill="none"/><path d="M538 518L657.5 554.5" stroke="#222" stroke-width="0.9" stroke-dasharray="5,3.5" fill="none"/><path d="M105.5 595H661" stroke="#000" stroke-width="4"/><path d="M120.5 577.2V617" stroke="#000" stroke-width="2.3"/><text transform="translate(120.40,573.70) scale(1,1.1)" text-anchor="middle" font-size="17" font-weight="bold" fill="#000" stroke="#000" stroke-width="0.35">24</text><text transform="translate(116.25,621.00) rotate(90) scale(1,1.1)" font-size="17.3" font-weight="bold" fill="#000" stroke="#000" stroke-width="0.35">ssr44</text><path d="M163.25 577.2V617" stroke="#000" stroke-width="2.3"/><text transform="translate(163.25,573.70) scale(1,1.1)" text-anchor="middle" font-size="17" font-weight="bold" fill="#000" stroke="#000" stroke-width="0.35">22</text><text transform="translate(158.00,621.00) rotate(90) scale(1,1.1)" font-size="17.3" font-weight="bold" fill="#000" stroke="#000" stroke-width="0.35">ssr40</text><path d="M209 577.2V617" stroke="#000" stroke-width="2.3"/><text transform="translate(209.00,573.70) scale(1,1.1)" text-anchor="middle" font-size="17" font-weight="bold" fill="#000" stroke="#000" stroke-width="0.35">21</text><text transform="translate(203.75,621.00) rotate(90) scale(1,1.1)" font-size="17.3" font-weight="bold" fill="#000" stroke="#000" stroke-width="0.35">ssr65</text><path d="M441.5 577.2V617" stroke="#000" stroke-width="2.3"/><text transform="translate(441.50,573.70) scale(1,1.1)" text-anchor="middle" font-size="17" font-weight="bold" fill="#000" stroke="#000" stroke-width="0.35">20</text><text transform="translate(436.25,621.00) rotate(90) scale(1,1.1)" font-size="17.3" font-weight="bold" fill="#000" stroke="#000" stroke-width="0.35">ssr18</text><path d="M488.75 577.2V617" stroke="#000" stroke-width="2.3"/><text transform="translate(488.75,573.70) scale(1,1.1)" text-anchor="middle" font-size="17" font-weight="bold" fill="#000" stroke="#000" stroke-width="0.35">18</text><text transform="translate(485.00,621.00) rotate(90) scale(1,1.1)" font-size="17.3" font-weight="bold" fill="#000" stroke="#000" stroke-width="0.35">ssr12</text><path d="M561.25 577.2V617" stroke="#18b4ea" stroke-width="2.3"/><text transform="translate(561.90,573.70) scale(1,1.1)" text-anchor="middle" font-size="17" font-weight="bold" fill="#1aaee6" stroke="#1aaee6" stroke-width="0.35">16</text><text transform="translate(558.75,621.00) rotate(90) scale(1,1.1)" font-size="17.3" font-weight="bold" fill="#1aaee6" stroke="#1aaee6" stroke-width="0.35">ssr108</text><path d="M583.5 577.2V617" stroke="#ff2020" stroke-width="2.3"/><text transform="translate(582.00,573.70) scale(1,1.1)" text-anchor="middle" font-size="17" font-weight="bold" fill="#f23a3a" stroke="#f23a3a" stroke-width="0.35">15</text><text transform="translate(578.50,621.00) rotate(90) scale(1,1.1)" font-size="17.3" font-weight="bold" fill="#f23a3a" stroke="#f23a3a" stroke-width="0.35">ssr97</text><path d="M596.75 577.2V617" stroke="#22e622" stroke-width="2.3"/><text transform="translate(601.90,571.50) scale(1,1.1)" text-anchor="middle" font-size="17" font-weight="bold" fill="#1ee01e" stroke="#1ee01e" stroke-width="0.35">21</text><text transform="translate(595.50,621.00) rotate(90) scale(1,1.1)" font-size="17.3" font-weight="bold" fill="#1ee01e" stroke="#1ee01e" stroke-width="0.35">ssr4</text><path d="M651 577.2V617" stroke="#000" stroke-width="2.3"/><text transform="translate(651.00,573.70) scale(1,1.1)" text-anchor="middle" font-size="17" font-weight="bold" fill="#000" stroke="#000" stroke-width="0.35">37</text><text transform="translate(647.50,621.00) rotate(90) scale(1,1.1)" font-size="17.3" font-weight="bold" fill="#000" stroke="#000" stroke-width="0.35">ssr3</text><path d="M541.5 658L107.5 710" stroke="#1aaee6" stroke-width="1.6" stroke-dasharray="6,4" fill="none"/><path d="M604.5 657.5L663.5 698" stroke="#1ee01e" stroke-width="1.6" stroke-dasharray="6,4" fill="none"/><text transform="translate(40.20,746.00) scale(1,1.1)" font-size="17" font-weight="bold" fill="#000" stroke="#000" stroke-width="0.35">243.9kb</text><rect x="144.25" y="726.2" width="11.25" height="27" fill="#a8a8a8"/><rect x="242.5" y="726.2" width="8.75" height="27" fill="#a8a8a8"/><rect x="307.5" y="726.2" width="24.50" height="27" fill="#a8a8a8"/><rect x="356.25" y="726.2" width="8.75" height="27" fill="#a8a8a8"/><rect x="419.5" y="726.2" width="17.00" height="27" fill="#a8a8a8"/><rect x="470.75" y="726.2" width="14.75" height="27" fill="#a8a8a8"/><rect x="553" y="726.2" width="5.90" height="27" fill="#a8a8a8"/><rect x="562.1" y="726.2" width="6.50" height="27" fill="#a8a8a8"/><rect x="610.1" y="724.8" width="36.9" height="26.8" fill="#000"/><path d="M107 742H662.5" stroke="#000" stroke-width="4"/><text transform="translate(126.25,719.00) scale(1,1.03)" font-size="14" font-weight="bold" font-style="italic" fill="#000" stroke="#000" stroke-width="0.25">018100.1</text><text transform="translate(217.50,719.00) scale(1,1.03)" font-size="14" font-weight="bold" font-style="italic" fill="#000" stroke="#000" stroke-width="0.25">018200.1</text><text transform="translate(281.25,719.00) scale(1,1.03)" font-size="14" font-weight="bold" font-style="italic" fill="#000" stroke="#000" stroke-width="0.25">018300.1</text><text transform="translate(338.75,719.00) scale(1,1.03)" font-size="14" font-weight="bold" font-style="italic" fill="#000" stroke="#000" stroke-width="0.25">018400.1</text><text transform="translate(398.75,719.00) scale(1,1.03)" font-size="14" font-weight="bold" font-style="italic" fill="#000" stroke="#000" stroke-width="0.25">018500.1</text><text transform="translate(461.25,719.00) scale(1,1.03)" font-size="14" font-weight="bold" font-style="italic" fill="#000" stroke="#000" stroke-width="0.25">018600.1</text><text transform="translate(546.25,719.00) scale(1,1.03)" font-size="14" font-weight="bold" font-style="italic" fill="#000" stroke="#000" stroke-width="0.25">018911.1</text><text transform="translate(607.80,719.00) scale(1,1.03)" font-size="14" font-weight="bold" font-style="italic" fill="#000" stroke="#000" stroke-width="0.25">018800.3</text><text transform="translate(515.00,764.00) scale(1,1.03)" font-size="14" font-weight="bold" font-style="italic" fill="#000" stroke="#000" stroke-width="0.25">019022.1</text><text transform="translate(1.60,800.60) scale(1,1.02)" font-size="31" font-weight="bold" fill="#000" stroke="#000" stroke-width="0.3">c</text><text transform="translate(41.20,805.00) scale(1,1.06)" font-size="17.5" font-weight="bold" fill="#000" stroke="#000" stroke-width="0.35"><tspan font-style="italic">Phvul.006G018800.3</tspan> cDNA <tspan dx="2.8" letter-spacing="-0.2">Length:1536bp</tspan></text><rect x="107" y="833" width="558.3" height="67.7" fill="none" stroke="#000" stroke-width="1"/><text transform="translate(113.00,827.80) scale(1,1.06)" text-anchor="middle" font-size="16.3" font-weight="bold" fill="#000" stroke="#000" stroke-width="0.35">1</text><text transform="translate(262.00,827.80) scale(1,1.06)" text-anchor="middle" font-size="16.3" font-weight="bold" fill="#000" stroke="#000" stroke-width="0.35">493</text><text transform="translate(334.00,827.80) scale(1,1.06)" text-anchor="middle" font-size="16.3" font-weight="bold" fill="#000" stroke="#000" stroke-width="0.35">699</text><text transform="translate(379.00,827.80) scale(1,1.06)" text-anchor="middle" font-size="16.3" font-weight="bold" fill="#000" stroke="#000" stroke-width="0.35">789</text><text transform="translate(432.00,827.80) scale(1,1.06)" text-anchor="middle" font-size="16.3" font-weight="bold" fill="#000" stroke="#000" stroke-width="0.35">864</text><text transform="translate(542.70,827.80) scale(1,1.06)" text-anchor="middle" font-size="16.3" font-weight="bold" fill="#000" stroke="#000" stroke-width="0.35">1283</text><text transform="translate(601.00,827.80) scale(1,1.06)" text-anchor="middle" font-size="16.3" font-weight="bold" fill="#000" stroke="#000" stroke-width="0.35">1392</text><text transform="translate(666.00,829.60) scale(1,1.06)" text-anchor="middle" font-size="16.5" font-weight="bold" fill="#000" stroke="#000" stroke-width="0.35">1536</text><text transform="translate(46.60,855.80) scale(1,1.06)" font-size="16.5" font-weight="bold" fill="#000" stroke="#000" stroke-width="0.35">A18-1</text><text transform="translate(46.60,891.20) scale(1,1.06)" font-size="17.3" font-weight="bold" font-style="italic" fill="#000" stroke="#000" stroke-width="0.35">pv-pur</text><text transform="translate(262.00,856.20) scale(1,1.15)" text-anchor="middle" font-size="21" font-weight="bold" fill="#000" stroke="#000" stroke-width="0.35">T</text><text transform="translate(262.00,894.70) scale(1,1.13)" text-anchor="middle" font-size="21" font-weight="bold" fill="#f0321e" stroke="#f0321e" stroke-width="0.35">A</text><text transform="translate(333.50,856.20) scale(1,1.15)" text-anchor="middle" font-size="21" font-weight="bold" fill="#000" stroke="#000" stroke-width="0.35">C</text><text transform="translate(333.50,894.70) scale(1,1.13)" text-anchor="middle" font-size="21" font-weight="bold" fill="#f0321e" stroke="#f0321e" stroke-width="0.35">T</text><text transform="translate(379.70,856.20) scale(1,1.15)" text-anchor="middle" font-size="21" font-weight="bold" fill="#000" stroke="#000" stroke-width="0.35">A</text><text transform="translate(379.70,894.70) scale(1,1.13)" text-anchor="middle" font-size="21" font-weight="bold" fill="#f0321e" stroke="#f0321e" stroke-width="0.35">G</text><text transform="translate(433.00,856.20) scale(1,1.15)" text-anchor="middle" font-size="21" font-weight="bold" fill="#000" stroke="#000" stroke-width="0.35">C</text><text transform="translate(433.00,894.70) scale(1,1.13)" text-anchor="middle" font-size="21" font-weight="bold" fill="#f0321e" stroke="#f0321e" stroke-width="0.35">A</text><text transform="translate(542.00,856.20) scale(1,1.15)" text-anchor="middle" font-size="21" font-weight="bold" fill="#000" stroke="#000" stroke-width="0.35">T</text><text transform="translate(542.00,894.70) scale(1,1.13)" text-anchor="middle" font-size="21" font-weight="bold" fill="#f0321e" stroke="#f0321e" stroke-width="0.35">G</text><text transform="translate(600.30,856.20) scale(1,1.15)" text-anchor="middle" font-size="21" font-weight="bold" fill="#000" stroke="#000" stroke-width="0.35">T</text><text transform="translate(600.30,894.70) scale(1,1.13)" text-anchor="middle" font-size="21" font-weight="bold" fill="#f0321e" stroke="#f0321e" stroke-width="0.35">A</text><text transform="translate(1.00,14.60) scale(1,1.03)" font-size="27.5" font-weight="bold" fill="#000" stroke="#000" stroke-width="0.3">a</text></svg></body></html>
